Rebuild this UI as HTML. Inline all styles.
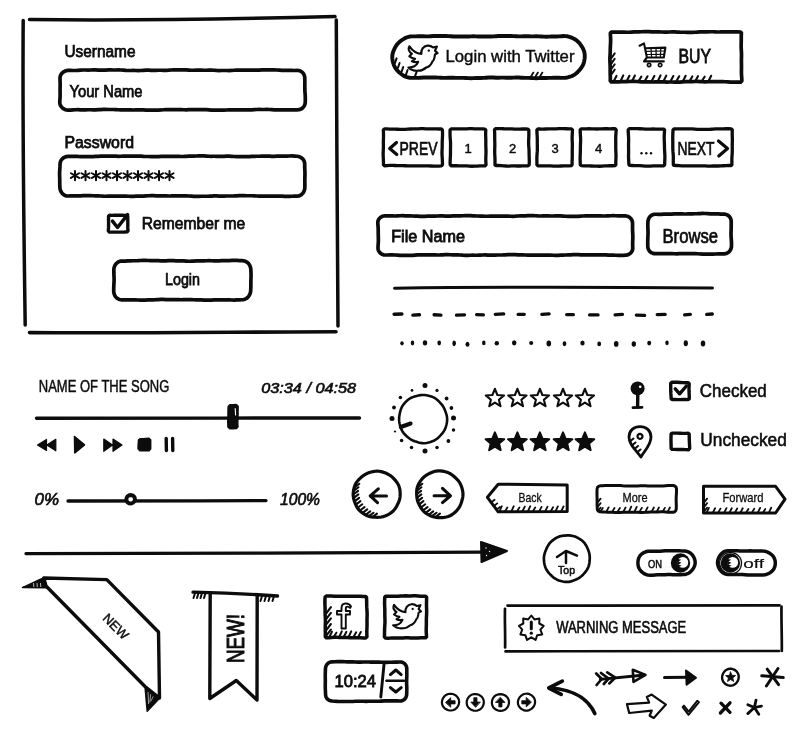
<!DOCTYPE html>
<html><head><meta charset="utf-8"><title>Hand drawn UI kit</title>
<style>
html,body{margin:0;padding:0;background:#fff;}
body{width:800px;height:745px;overflow:hidden;font-family:"Liberation Sans",sans-serif;}
svg{display:block;will-change:transform;}
svg text{font-family:"Liberation Sans",sans-serif;fill:#0c0c0c;}
</style></head><body>
<svg width="800" height="745" viewBox="0 0 800 745">
<rect x="0" y="0" width="800" height="745" fill="#fff"/>
<path d="M29.5,19.6 C120,20.5 240,19 335,16.6" fill="none" stroke="#0c0c0c" stroke-width="3.5" stroke-linecap="round" stroke-linejoin="round" />
<path d="M23.2,20.5 C22.5,120 23.8,230 25.2,325" fill="none" stroke="#0c0c0c" stroke-width="3.5" stroke-linecap="round" stroke-linejoin="round" />
<path d="M336.3,20 C336.4,120 337.6,230 338,326" fill="none" stroke="#0c0c0c" stroke-width="3.5" stroke-linecap="round" stroke-linejoin="round" />
<path d="M29.5,332.6 C120,333.4 240,332 336,331.8" fill="none" stroke="#0c0c0c" stroke-width="3.6" stroke-linecap="round" stroke-linejoin="round" />
<text x="64.50" y="56.80" font-size="16" font-weight="normal" text-anchor="start" textLength="71.0" lengthAdjust="spacingAndGlyphs" stroke="#0c0c0c" stroke-width="0.75"  style="">Username</text>
<path d="M68.01,70.46 L70.52,70.47 L73.03,70.50 L75.55,70.48 L78.07,70.32 L80.58,70.12 L83.10,70.00 L85.62,70.00 L88.13,70.03 L90.65,70.00 L93.16,69.95 L95.68,69.97 L98.20,70.08 L100.71,70.18 L103.23,70.16 L105.75,70.05 L108.26,69.96 L110.78,69.97 L113.30,70.02 L115.81,70.02 L118.33,69.97 L120.85,70.00 L123.36,70.15 L125.88,70.36 L128.40,70.48 L130.91,70.48 L133.43,70.46 L135.95,70.49 L138.46,70.53 L140.98,70.49 L143.49,70.35 L146.01,70.21 L148.53,70.20 L151.04,70.28 L153.56,70.34 L156.08,70.31 L158.59,70.26 L161.11,70.27 L163.63,70.33 L166.14,70.32 L168.66,70.18 L171.18,69.98 L173.69,69.88 L176.21,69.88 L178.73,69.90 L181.24,69.87 L183.76,69.84 L186.27,69.90 L188.79,70.07 L191.31,70.23 L193.82,70.27 L196.34,70.21 L198.86,70.18 L201.37,70.22 L203.89,70.27 L206.41,70.24 L208.92,70.16 L211.44,70.15 L213.96,70.27 L216.47,70.44 L218.99,70.53 L221.51,70.52 L224.02,70.49 L226.54,70.52 L229.05,70.54 L231.57,70.47 L234.09,70.28 L236.60,70.10 L239.12,70.04 L241.64,70.08 L244.15,70.10 L246.67,70.05 L249.19,70.01 L251.70,70.06 L254.22,70.16 L256.74,70.20 L259.25,70.11 L261.77,69.97 L264.29,69.91 L266.80,69.94 L269.32,69.97 L271.84,69.94 L274.35,69.92 L276.87,70.00 L279.38,70.19 L281.90,70.38 L284.42,70.44 L286.93,70.42 L289.45,70.41 L291.97,70.46 L294.48,70.49 L296.99,70.41 L298.54,70.48 L300.04,70.85 L301.44,71.56 L302.64,72.56 L303.59,73.80 L304.25,75.20 L304.65,76.68 L304.79,78.21 L304.83,80.82 L304.86,83.44 L304.82,86.07 L304.80,88.69 L304.91,91.31 L305.12,93.93 L305.28,96.56 L305.31,99.18 L305.28,101.81 L305.12,103.42 L304.68,104.98 L303.93,106.43 L302.90,107.70 L301.61,108.71 L300.15,109.40 L298.58,109.76 L297.00,109.83 L294.48,109.77 L291.97,109.83 L289.45,109.90 L286.93,109.88 L284.42,109.83 L281.90,109.82 L279.38,109.89 L276.87,109.90 L274.35,109.79 L271.84,109.61 L269.32,109.48 L266.80,109.47 L264.29,109.50 L261.77,109.48 L259.25,109.44 L256.74,109.48 L254.22,109.64 L251.70,109.82 L249.19,109.90 L246.67,109.86 L244.15,109.82 L241.64,109.85 L239.12,109.91 L236.60,109.89 L234.09,109.81 L231.57,109.77 L229.05,109.85 L226.54,110.01 L224.02,110.12 L221.51,110.11 L218.99,110.08 L216.47,110.09 L213.96,110.13 L211.44,110.08 L208.92,109.90 L206.41,109.71 L203.89,109.62 L201.37,109.64 L198.86,109.66 L196.34,109.62 L193.82,109.57 L191.31,109.61 L188.79,109.72 L186.27,109.79 L183.76,109.74 L181.24,109.61 L178.73,109.53 L176.21,109.55 L173.69,109.59 L171.18,109.58 L168.66,109.54 L166.14,109.59 L163.63,109.77 L161.11,109.97 L158.59,110.06 L156.08,110.05 L153.56,110.03 L151.04,110.07 L148.53,110.11 L146.01,110.05 L143.49,109.91 L140.98,109.81 L138.46,109.83 L135.95,109.93 L133.43,109.98 L130.91,109.94 L128.40,109.90 L125.88,109.92 L123.36,109.97 L120.85,109.92 L118.33,109.75 L115.81,109.57 L113.30,109.48 L110.78,109.49 L108.26,109.51 L105.75,109.47 L103.23,109.45 L100.71,109.53 L98.20,109.70 L95.68,109.83 L93.16,109.83 L90.65,109.77 L88.13,109.74 L85.62,109.79 L83.10,109.83 L80.58,109.79 L78.07,109.72 L75.55,109.75 L73.03,109.90 L70.52,110.07 L67.99,110.14 L66.37,109.97 L64.82,109.48 L63.39,108.70 L62.12,107.68 L61.07,106.43 L60.28,105.00 L59.83,103.42 L59.75,101.81 L59.95,99.18 L60.10,96.56 L60.12,93.93 L60.07,91.31 L60.08,88.69 L60.14,86.07 L60.14,83.44 L60.06,80.82 L59.98,78.20 L60.15,76.64 L60.67,75.16 L61.48,73.84 L62.52,72.72 L63.72,71.80 L65.06,71.10 L66.50,70.64 Z" fill="none" stroke="#0c0c0c" stroke-width="3.7" stroke-linejoin="round" />
<text x="69.50" y="96.50" font-size="16" font-weight="normal" text-anchor="start" textLength="73.0" lengthAdjust="spacingAndGlyphs" stroke="#0c0c0c" stroke-width="0.75"  style="">Your Name</text>
<text x="64.50" y="147.50" font-size="16" font-weight="normal" text-anchor="start" textLength="69.5" lengthAdjust="spacingAndGlyphs" stroke="#0c0c0c" stroke-width="0.75"  style="">Password</text>
<path d="M68.00,156.43 L70.52,156.31 L73.03,156.26 L75.55,156.33 L78.07,156.47 L80.58,156.54 L83.10,156.54 L85.62,156.54 L88.13,156.61 L90.65,156.68 L93.16,156.64 L95.68,156.47 L98.20,156.28 L100.71,156.19 L103.23,156.19 L105.75,156.16 L108.26,156.07 L110.78,156.01 L113.30,156.07 L115.81,156.20 L118.33,156.28 L120.85,156.24 L123.36,156.14 L125.88,156.10 L128.40,156.13 L130.91,156.14 L133.43,156.07 L135.95,156.00 L138.46,156.04 L140.98,156.21 L143.49,156.39 L146.01,156.48 L148.53,156.49 L151.04,156.53 L153.56,156.62 L156.08,156.67 L158.59,156.60 L161.11,156.45 L163.63,156.34 L166.14,156.35 L168.66,156.42 L171.18,156.43 L173.69,156.37 L176.21,156.35 L178.73,156.42 L181.24,156.50 L183.76,156.47 L186.27,156.31 L188.79,156.14 L191.31,156.07 L193.82,156.06 L196.34,156.02 L198.86,155.93 L201.37,155.88 L203.89,155.97 L206.41,156.14 L208.92,156.27 L211.44,156.29 L213.96,156.26 L216.47,156.28 L218.99,156.35 L221.51,156.38 L224.02,156.30 L226.54,156.21 L229.05,156.22 L231.57,156.36 L234.09,156.50 L236.60,156.55 L239.12,156.55 L241.64,156.58 L244.15,156.67 L246.67,156.71 L249.19,156.61 L251.70,156.42 L254.22,156.28 L256.74,156.24 L259.25,156.25 L261.77,156.20 L264.29,156.12 L266.80,156.10 L269.32,156.18 L271.84,156.29 L274.35,156.31 L276.87,156.20 L279.38,156.09 L281.90,156.07 L284.42,156.09 L286.93,156.06 L289.45,155.98 L291.97,155.94 L294.48,156.04 L297.00,156.24 L298.55,156.50 L300.02,157.01 L301.37,157.76 L302.56,158.74 L303.53,159.94 L304.22,161.31 L304.61,162.79 L304.71,164.31 L304.69,166.93 L304.80,169.57 L304.94,172.20 L304.96,174.83 L304.88,177.47 L304.82,180.10 L304.84,182.73 L304.87,185.37 L304.82,187.99 L304.62,189.52 L304.14,190.96 L303.44,192.30 L302.52,193.52 L301.40,194.59 L300.08,195.43 L298.59,195.98 L297.01,196.19 L294.48,196.21 L291.97,196.24 L289.45,196.32 L286.93,196.39 L284.42,196.34 L281.90,196.19 L279.38,196.06 L276.87,196.03 L274.35,196.09 L271.84,196.10 L269.32,196.05 L266.80,196.01 L264.29,196.06 L261.77,196.15 L259.25,196.15 L256.74,196.02 L254.22,195.85 L251.70,195.76 L249.19,195.75 L246.67,195.73 L244.15,195.64 L241.64,195.58 L239.12,195.64 L236.60,195.81 L234.09,195.97 L231.57,196.01 L229.05,195.99 L226.54,196.01 L224.02,196.08 L221.51,196.12 L218.99,196.07 L216.47,195.96 L213.96,195.94 L211.44,196.04 L208.92,196.18 L206.41,196.25 L203.89,196.25 L201.37,196.26 L198.86,196.34 L196.34,196.40 L193.82,196.33 L191.31,196.15 L188.79,195.98 L186.27,195.91 L183.76,195.92 L181.24,195.88 L178.73,195.79 L176.21,195.75 L173.69,195.82 L171.18,195.95 L168.66,196.00 L166.14,195.92 L163.63,195.81 L161.11,195.78 L158.59,195.81 L156.08,195.80 L153.56,195.72 L151.04,195.67 L148.53,195.74 L146.01,195.92 L143.49,196.09 L140.98,196.16 L138.46,196.17 L135.95,196.22 L133.43,196.31 L130.91,196.35 L128.40,196.26 L125.88,196.11 L123.36,196.03 L120.85,196.08 L118.33,196.15 L115.81,196.15 L113.30,196.10 L110.78,196.10 L108.26,196.18 L105.75,196.24 L103.23,196.17 L100.71,196.00 L98.20,195.84 L95.68,195.78 L93.16,195.77 L90.65,195.72 L88.13,195.62 L85.62,195.60 L83.10,195.70 L80.58,195.87 L78.07,195.97 L75.55,195.96 L73.03,195.93 L70.52,195.95 L68.00,196.02 L66.43,195.88 L64.93,195.40 L63.58,194.61 L62.42,193.58 L61.46,192.37 L60.71,191.02 L60.19,189.55 L59.93,188.00 L59.79,185.37 L59.75,182.73 L59.74,180.10 L59.68,177.47 L59.59,174.83 L59.61,172.20 L59.77,169.57 L59.95,166.93 L60.03,164.30 L60.19,162.75 L60.63,161.25 L61.37,159.87 L62.39,158.69 L63.62,157.75 L65.00,157.06 L66.47,156.62 Z" fill="none" stroke="#0c0c0c" stroke-width="3.7" stroke-linejoin="round" />
<line x1="75.00" y1="170.90" x2="75.00" y2="180.30" stroke="#0c0c0c" stroke-width="2.0" stroke-linecap="round" />
<line x1="79.07" y1="173.25" x2="70.93" y2="177.95" stroke="#0c0c0c" stroke-width="2.0" stroke-linecap="round" />
<line x1="79.07" y1="177.95" x2="70.93" y2="173.25" stroke="#0c0c0c" stroke-width="2.0" stroke-linecap="round" />
<line x1="85.50" y1="170.90" x2="85.50" y2="180.30" stroke="#0c0c0c" stroke-width="2.0" stroke-linecap="round" />
<line x1="89.57" y1="173.25" x2="81.43" y2="177.95" stroke="#0c0c0c" stroke-width="2.0" stroke-linecap="round" />
<line x1="89.57" y1="177.95" x2="81.43" y2="173.25" stroke="#0c0c0c" stroke-width="2.0" stroke-linecap="round" />
<line x1="96.00" y1="170.90" x2="96.00" y2="180.30" stroke="#0c0c0c" stroke-width="2.0" stroke-linecap="round" />
<line x1="100.07" y1="173.25" x2="91.93" y2="177.95" stroke="#0c0c0c" stroke-width="2.0" stroke-linecap="round" />
<line x1="100.07" y1="177.95" x2="91.93" y2="173.25" stroke="#0c0c0c" stroke-width="2.0" stroke-linecap="round" />
<line x1="106.50" y1="170.90" x2="106.50" y2="180.30" stroke="#0c0c0c" stroke-width="2.0" stroke-linecap="round" />
<line x1="110.57" y1="173.25" x2="102.43" y2="177.95" stroke="#0c0c0c" stroke-width="2.0" stroke-linecap="round" />
<line x1="110.57" y1="177.95" x2="102.43" y2="173.25" stroke="#0c0c0c" stroke-width="2.0" stroke-linecap="round" />
<line x1="117.00" y1="170.90" x2="117.00" y2="180.30" stroke="#0c0c0c" stroke-width="2.0" stroke-linecap="round" />
<line x1="121.07" y1="173.25" x2="112.93" y2="177.95" stroke="#0c0c0c" stroke-width="2.0" stroke-linecap="round" />
<line x1="121.07" y1="177.95" x2="112.93" y2="173.25" stroke="#0c0c0c" stroke-width="2.0" stroke-linecap="round" />
<line x1="127.50" y1="170.90" x2="127.50" y2="180.30" stroke="#0c0c0c" stroke-width="2.0" stroke-linecap="round" />
<line x1="131.57" y1="173.25" x2="123.43" y2="177.95" stroke="#0c0c0c" stroke-width="2.0" stroke-linecap="round" />
<line x1="131.57" y1="177.95" x2="123.43" y2="173.25" stroke="#0c0c0c" stroke-width="2.0" stroke-linecap="round" />
<line x1="138.00" y1="170.90" x2="138.00" y2="180.30" stroke="#0c0c0c" stroke-width="2.0" stroke-linecap="round" />
<line x1="142.07" y1="173.25" x2="133.93" y2="177.95" stroke="#0c0c0c" stroke-width="2.0" stroke-linecap="round" />
<line x1="142.07" y1="177.95" x2="133.93" y2="173.25" stroke="#0c0c0c" stroke-width="2.0" stroke-linecap="round" />
<line x1="148.50" y1="170.90" x2="148.50" y2="180.30" stroke="#0c0c0c" stroke-width="2.0" stroke-linecap="round" />
<line x1="152.57" y1="173.25" x2="144.43" y2="177.95" stroke="#0c0c0c" stroke-width="2.0" stroke-linecap="round" />
<line x1="152.57" y1="177.95" x2="144.43" y2="173.25" stroke="#0c0c0c" stroke-width="2.0" stroke-linecap="round" />
<line x1="159.00" y1="170.90" x2="159.00" y2="180.30" stroke="#0c0c0c" stroke-width="2.0" stroke-linecap="round" />
<line x1="163.07" y1="173.25" x2="154.93" y2="177.95" stroke="#0c0c0c" stroke-width="2.0" stroke-linecap="round" />
<line x1="163.07" y1="177.95" x2="154.93" y2="173.25" stroke="#0c0c0c" stroke-width="2.0" stroke-linecap="round" />
<line x1="169.50" y1="170.90" x2="169.50" y2="180.30" stroke="#0c0c0c" stroke-width="2.0" stroke-linecap="round" />
<line x1="173.57" y1="173.25" x2="165.43" y2="177.95" stroke="#0c0c0c" stroke-width="2.0" stroke-linecap="round" />
<line x1="173.57" y1="177.95" x2="165.43" y2="173.25" stroke="#0c0c0c" stroke-width="2.0" stroke-linecap="round" />
<path d="M109.53,215.29 L112.00,215.33 L114.50,215.30 L117.00,215.22 L119.50,215.20 L122.00,215.29 L124.50,215.42 L126.92,215.48 L127.71,216.27 L127.77,219.12 L127.81,222.04 L127.79,224.96 L127.82,227.88 L127.99,230.80 L127.03,231.90 L124.50,232.07 L122.00,232.13 L119.50,232.11 L117.00,232.09 L114.50,232.11 L112.00,232.13 L109.42,232.07 L108.30,230.85 L108.49,227.88 L108.59,224.96 L108.57,222.04 L108.52,219.12 L108.55,216.21 Z" fill="none" stroke="#0c0c0c" stroke-width="3.4" stroke-linejoin="round" />
<path d="M112.5,221.2 L117.5,227.5 L127.6,214.6" fill="none" stroke="#0c0c0c" stroke-width="3.5" stroke-linecap="round" stroke-linejoin="round" />
<text x="141.80" y="228.80" font-size="16" font-weight="normal" text-anchor="start" textLength="103.5" lengthAdjust="spacingAndGlyphs" stroke="#0c0c0c" stroke-width="0.75"  style="">Remember me</text>
<path d="M122.71,261.00 L125.24,261.05 L127.78,260.96 L130.31,260.83 L132.85,260.75 L135.39,260.73 L137.93,260.66 L140.47,260.52 L143.01,260.39 L145.54,260.38 L148.08,260.51 L150.62,260.63 L153.16,260.66 L155.70,260.65 L158.24,260.70 L160.77,260.80 L163.31,260.85 L165.85,260.78 L168.39,260.66 L170.93,260.62 L173.47,260.71 L176.00,260.83 L178.54,260.88 L181.08,260.90 L183.62,260.97 L186.16,261.12 L188.70,261.24 L191.23,261.22 L193.77,261.09 L196.31,260.97 L198.85,260.93 L201.39,260.92 L203.93,260.85 L206.46,260.74 L209.00,260.69 L211.54,260.76 L214.08,260.88 L216.62,260.91 L219.16,260.82 L221.69,260.72 L224.23,260.69 L226.77,260.68 L229.31,260.61 L231.85,260.46 L234.39,260.35 L236.92,260.39 L239.46,260.53 L242.00,260.65 L243.58,260.82 L245.12,261.24 L246.55,261.92 L247.82,262.86 L248.88,264.03 L249.71,265.35 L250.31,266.78 L250.69,268.27 L250.86,269.80 L250.98,272.43 L251.05,275.05 L250.99,277.68 L250.90,280.30 L250.87,282.93 L250.88,285.55 L250.82,288.18 L250.68,290.79 L250.47,292.29 L250.05,293.73 L249.44,295.09 L248.64,296.37 L247.63,297.51 L246.42,298.46 L245.04,299.16 L243.55,299.58 L242.00,299.73 L239.46,299.79 L236.92,299.93 L234.39,300.04 L231.85,300.02 L229.31,299.90 L226.77,299.82 L224.23,299.84 L221.69,299.92 L219.16,299.95 L216.62,299.92 L214.08,299.94 L211.54,300.05 L209.00,300.18 L206.46,300.19 L203.93,300.08 L201.39,299.93 L198.85,299.86 L196.31,299.83 L193.77,299.75 L191.23,299.60 L188.70,299.50 L186.16,299.53 L183.62,299.65 L181.08,299.73 L178.54,299.71 L176.00,299.65 L173.47,299.65 L170.93,299.70 L168.39,299.68 L165.85,299.57 L163.31,299.45 L160.77,299.46 L158.24,299.58 L155.70,299.72 L153.16,299.78 L150.62,299.81 L148.08,299.91 L145.54,300.07 L143.01,300.16 L140.47,300.11 L137.93,299.98 L135.39,299.91 L132.85,299.93 L130.31,299.96 L127.78,299.93 L125.24,299.87 L122.70,299.88 L121.11,299.81 L119.54,299.47 L118.05,298.85 L116.72,297.93 L115.60,296.76 L114.74,295.40 L114.15,293.91 L113.80,292.37 L113.71,290.80 L113.74,288.18 L113.82,285.55 L113.98,282.93 L114.10,280.30 L114.07,277.68 L113.93,275.05 L113.84,272.43 L113.84,269.80 L113.99,268.26 L114.38,266.77 L115.01,265.36 L115.86,264.06 L116.93,262.92 L118.21,262.02 L119.64,261.39 L121.16,261.06 Z" fill="none" stroke="#0c0c0c" stroke-width="3.7" stroke-linejoin="round" />
<text x="165.00" y="284.80" font-size="16.5" font-weight="normal" text-anchor="start" textLength="35.0" lengthAdjust="spacingAndGlyphs" stroke="#0c0c0c" stroke-width="0.75"  style="">Login</text>
<path d="M413.20,36.33 L415.71,36.35 L418.22,36.29 L420.74,36.25 L423.25,36.28 L425.76,36.35 L428.27,36.34 L430.78,36.20 L433.29,36.04 L435.81,35.96 L438.32,35.98 L440.83,36.01 L443.34,36.00 L445.85,35.99 L448.36,36.08 L450.88,36.27 L453.39,36.45 L455.90,36.52 L458.41,36.48 L460.92,36.45 L463.43,36.48 L465.94,36.52 L468.46,36.48 L470.97,36.37 L473.48,36.31 L475.99,36.37 L478.50,36.50 L481.01,36.57 L483.53,36.53 L486.04,36.45 L488.55,36.44 L491.06,36.44 L493.57,36.38 L496.08,36.20 L498.60,36.01 L501.11,35.92 L503.62,35.96 L506.13,36.03 L508.64,36.04 L511.15,36.03 L513.67,36.10 L516.18,36.24 L518.69,36.37 L521.20,36.38 L523.71,36.29 L526.23,36.23 L528.74,36.26 L531.25,36.33 L533.76,36.35 L536.27,36.32 L538.78,36.34 L541.29,36.47 L543.81,36.63 L546.32,36.72 L548.83,36.66 L551.34,36.56 L553.85,36.50 L556.37,36.48 L558.88,36.40 L561.39,36.24 L563.90,36.07 L565.47,36.08 L567.03,36.26 L568.56,36.60 L570.05,37.06 L571.51,37.62 L572.93,38.25 L574.32,38.96 L575.65,39.77 L576.91,40.68 L578.08,41.71 L579.15,42.85 L580.13,44.05 L581.04,45.32 L581.88,46.62 L582.67,47.96 L583.36,49.36 L583.94,50.82 L584.38,52.33 L584.64,53.87 L584.75,55.44 L584.73,57.00 L584.73,57.10 L584.61,58.65 L584.40,60.19 L584.09,61.71 L583.67,63.20 L583.12,64.64 L582.42,66.02 L581.61,67.33 L580.71,68.56 L579.76,69.75 L578.76,70.89 L577.72,71.99 L576.62,73.04 L575.43,74.01 L574.16,74.87 L572.81,75.61 L571.40,76.22 L569.96,76.73 L568.48,77.16 L566.98,77.51 L565.45,77.76 L563.90,77.88 L561.39,77.89 L558.88,77.80 L556.37,77.71 L553.85,77.72 L551.34,77.83 L548.83,77.91 L546.32,77.93 L543.81,77.94 L541.29,78.02 L538.78,78.16 L536.27,78.24 L533.76,78.16 L531.25,78.01 L528.74,77.88 L526.23,77.83 L523.71,77.79 L521.20,77.68 L518.69,77.55 L516.18,77.50 L513.67,77.58 L511.15,77.70 L508.64,77.75 L506.13,77.69 L503.62,77.64 L501.11,77.66 L498.60,77.70 L496.08,77.68 L493.57,77.57 L491.06,77.50 L488.55,77.56 L486.04,77.73 L483.53,77.87 L481.01,77.94 L478.50,77.97 L475.99,78.05 L473.48,78.17 L470.97,78.22 L468.46,78.14 L465.94,77.97 L463.43,77.86 L460.92,77.85 L458.41,77.87 L455.90,77.83 L453.39,77.75 L450.88,77.72 L448.36,77.80 L445.85,77.89 L443.34,77.87 L440.83,77.74 L438.32,77.61 L435.80,77.56 L433.29,77.56 L430.78,77.53 L428.27,77.44 L425.76,77.40 L423.25,77.49 L420.74,77.69 L418.22,77.85 L415.71,77.91 L413.20,77.91 L411.64,77.87 L410.09,77.74 L408.54,77.50 L407.02,77.14 L405.54,76.62 L404.12,75.96 L402.77,75.16 L401.50,74.27 L400.28,73.30 L399.11,72.29 L397.98,71.22 L396.92,70.08 L395.95,68.86 L395.09,67.55 L394.37,66.17 L393.77,64.73 L393.28,63.25 L392.87,61.74 L392.55,60.21 L392.34,58.66 L392.26,57.11 L392.26,56.99 L392.34,55.44 L392.60,53.89 L393.00,52.39 L393.52,50.93 L394.12,49.51 L394.79,48.13 L395.52,46.79 L396.32,45.49 L397.23,44.26 L398.24,43.12 L399.34,42.07 L400.52,41.10 L401.75,40.20 L403.01,39.35 L404.32,38.56 L405.68,37.85 L407.11,37.25 L408.59,36.79 L410.11,36.49 L411.65,36.35 Z" fill="none" stroke="#0c0c0c" stroke-width="3.9" stroke-linejoin="round" />
<path d="M409.4,46.3 C412,50 417,53.5 421.3,53.8 C421,50 423,46 427.5,45.6 C430,45.4 432,46.5 433.1,47.5 L436.9,46.6 L435,50.6 L437.5,53.1 L435,54.4 C434.5,58 433.5,61 432.5,61.3 C431,65 428,67 426.3,67.5 C423,70 420,70.8 418.8,70.6 C416,71 414,70.6 412.5,70 C411,69.5 409.5,68.5 408.4,67.5 C411,67.6 413,67 414.4,66.3 C416,65.5 417.5,63.5 418.1,61.9 C416,62.5 413.5,62 411.9,61.3 L415,58.8 C413,58.5 411,57.5 409.4,56.3 L411.9,53.8 C410.5,52.8 409.3,51.5 408.8,50 C408.5,48.5 408.8,47.3 409.4,46.3 Z" fill="none" stroke="#0c0c0c" stroke-width="2.2" stroke-linecap="round" stroke-linejoin="round" />
<circle cx="428.80" cy="50.60" r="1.20" fill="#0c0c0c"/>
<text x="445.50" y="61.60" font-size="16.5" font-weight="normal" text-anchor="start" textLength="129.0" lengthAdjust="spacingAndGlyphs" stroke="#0c0c0c" stroke-width="0.4"  style="">Login with Twitter</text>
<line x1="395.00" y1="63.00" x2="396.60" y2="58.40" stroke="#0c0c0c" stroke-width="2.0" stroke-linecap="round" />
<line x1="398.00" y1="67.60" x2="399.60" y2="63.00" stroke="#0c0c0c" stroke-width="2.0" stroke-linecap="round" />
<line x1="401.60" y1="71.60" x2="403.20" y2="67.00" stroke="#0c0c0c" stroke-width="2.0" stroke-linecap="round" />
<line x1="406.00" y1="74.60" x2="407.60" y2="70.00" stroke="#0c0c0c" stroke-width="2.0" stroke-linecap="round" />
<line x1="415.00" y1="76.40" x2="416.60" y2="71.80" stroke="#0c0c0c" stroke-width="2.0" stroke-linecap="round" />
<line x1="531.00" y1="76.40" x2="533.40" y2="72.60" stroke="#0c0c0c" stroke-width="1.8" stroke-linecap="round" />
<line x1="535.50" y1="76.40" x2="537.90" y2="72.60" stroke="#0c0c0c" stroke-width="1.8" stroke-linecap="round" />
<line x1="540.00" y1="76.40" x2="542.40" y2="72.60" stroke="#0c0c0c" stroke-width="1.8" stroke-linecap="round" />
<path d="M611.33,32.09 L613.83,32.15 L616.37,32.14 L618.90,32.08 L621.43,32.07 L623.97,32.15 L626.50,32.26 L629.03,32.25 L631.57,32.12 L634.10,31.96 L636.63,31.88 L639.17,31.85 L641.70,31.77 L644.23,31.64 L646.77,31.56 L649.30,31.64 L651.83,31.80 L654.37,31.92 L656.90,31.94 L659.43,31.93 L661.97,31.98 L664.50,32.07 L667.03,32.08 L669.57,31.99 L672.10,31.91 L674.63,31.94 L677.17,32.08 L679.70,32.20 L682.23,32.23 L684.77,32.23 L687.30,32.30 L689.83,32.39 L692.37,32.39 L694.90,32.25 L697.43,32.05 L699.97,31.93 L702.50,31.91 L705.03,31.89 L707.57,31.82 L710.10,31.74 L712.63,31.77 L715.17,31.90 L717.70,31.99 L720.23,31.95 L722.77,31.84 L725.30,31.78 L727.83,31.80 L730.37,31.83 L732.90,31.78 L735.43,31.73 L737.97,31.79 L740.51,31.98 L741.41,33.03 L741.26,35.52 L741.24,38.03 L741.24,40.55 L741.20,43.06 L741.15,45.58 L741.19,48.09 L741.33,50.61 L741.48,53.13 L741.52,55.64 L741.45,58.16 L741.40,60.67 L741.43,63.19 L741.49,65.71 L741.48,68.22 L741.42,70.74 L741.43,73.25 L741.57,75.77 L741.76,78.28 L741.84,80.90 L740.60,82.14 L737.97,82.11 L735.43,82.10 L732.90,82.12 L730.37,82.08 L727.83,81.92 L725.30,81.73 L722.77,81.63 L720.23,81.67 L717.70,81.72 L715.17,81.71 L712.63,81.65 L710.10,81.66 L707.57,81.74 L705.03,81.78 L702.50,81.70 L699.97,81.55 L697.43,81.46 L694.90,81.50 L692.37,81.58 L689.83,81.61 L687.30,81.62 L684.77,81.71 L682.23,81.90 L679.70,82.09 L677.17,82.14 L674.63,82.07 L672.10,82.01 L669.57,82.01 L667.03,82.03 L664.50,81.96 L661.97,81.84 L659.43,81.78 L656.90,81.86 L654.37,81.97 L651.83,82.00 L649.30,81.92 L646.77,81.83 L644.23,81.81 L641.70,81.79 L639.17,81.69 L636.63,81.50 L634.10,81.37 L631.57,81.39 L629.03,81.50 L626.50,81.59 L623.97,81.61 L621.43,81.65 L618.90,81.78 L616.37,81.92 L613.83,81.96 L611.28,81.88 L610.28,80.81 L610.33,78.28 L610.27,75.77 L610.19,73.25 L610.18,70.74 L610.20,68.22 L610.15,65.71 L610.02,63.19 L609.90,60.67 L609.92,58.16 L610.05,55.64 L610.19,53.13 L610.25,50.61 L610.29,48.09 L610.41,45.58 L610.56,43.06 L610.64,40.55 L610.57,38.03 L610.45,35.52 L610.38,33.02 Z" fill="none" stroke="#0c0c0c" stroke-width="3.7" stroke-linejoin="round" />
<line x1="614.09" y1="80.50" x2="616.49" y2="75.93" stroke="#0c0c0c" stroke-width="2.1" stroke-linecap="round" />
<line x1="620.87" y1="80.50" x2="623.27" y2="75.37" stroke="#0c0c0c" stroke-width="2.1" stroke-linecap="round" />
<line x1="627.03" y1="80.50" x2="629.43" y2="75.76" stroke="#0c0c0c" stroke-width="2.1" stroke-linecap="round" />
<line x1="632.47" y1="80.50" x2="634.87" y2="75.49" stroke="#0c0c0c" stroke-width="2.1" stroke-linecap="round" />
<line x1="638.97" y1="80.50" x2="641.37" y2="76.61" stroke="#0c0c0c" stroke-width="2.1" stroke-linecap="round" />
<line x1="645.12" y1="80.50" x2="647.52" y2="76.23" stroke="#0c0c0c" stroke-width="2.1" stroke-linecap="round" />
<line x1="651.97" y1="80.50" x2="654.37" y2="75.90" stroke="#0c0c0c" stroke-width="2.1" stroke-linecap="round" />
<line x1="658.16" y1="80.50" x2="660.56" y2="75.40" stroke="#0c0c0c" stroke-width="2.1" stroke-linecap="round" />
<line x1="663.87" y1="80.50" x2="666.27" y2="75.63" stroke="#0c0c0c" stroke-width="2.1" stroke-linecap="round" />
<line x1="670.92" y1="80.50" x2="673.32" y2="75.98" stroke="#0c0c0c" stroke-width="2.1" stroke-linecap="round" />
<line x1="676.78" y1="80.50" x2="679.18" y2="76.24" stroke="#0c0c0c" stroke-width="2.1" stroke-linecap="round" />
<line x1="683.24" y1="80.50" x2="685.64" y2="75.78" stroke="#0c0c0c" stroke-width="2.1" stroke-linecap="round" />
<line x1="689.95" y1="80.50" x2="692.35" y2="76.42" stroke="#0c0c0c" stroke-width="2.1" stroke-linecap="round" />
<line x1="695.59" y1="80.50" x2="697.99" y2="76.22" stroke="#0c0c0c" stroke-width="2.1" stroke-linecap="round" />
<line x1="702.23" y1="80.50" x2="704.63" y2="76.70" stroke="#0c0c0c" stroke-width="2.1" stroke-linecap="round" />
<line x1="708.78" y1="80.50" x2="711.18" y2="75.76" stroke="#0c0c0c" stroke-width="2.1" stroke-linecap="round" />
<line x1="611.50" y1="58.00" x2="614.70" y2="53.40" stroke="#0c0c0c" stroke-width="2.0" stroke-linecap="round" />
<line x1="611.50" y1="63.40" x2="614.70" y2="58.80" stroke="#0c0c0c" stroke-width="2.0" stroke-linecap="round" />
<line x1="611.50" y1="68.80" x2="614.70" y2="64.20" stroke="#0c0c0c" stroke-width="2.0" stroke-linecap="round" />
<line x1="611.50" y1="74.20" x2="614.70" y2="69.60" stroke="#0c0c0c" stroke-width="2.0" stroke-linecap="round" />
<path d="M639.6,45.7 L644,43.4 L646.9,57.5 L663.8,57.5 L665.4,47.6 L645.2,48.2 M646.9,57.5 L644,61.4 L663.8,61.4" fill="none" stroke="#0c0c0c" stroke-width="2.1" stroke-linecap="round" stroke-linejoin="round" />
<path d="M651,48.2 L651.6,57.5 M656,48 L656.2,57.5 M660.8,47.8 L660.4,57.5 M645.8,51.3 L664.8,51 M646.4,54.5 L664.3,54.3" fill="none" stroke="#0c0c0c" stroke-width="1.2" stroke-linecap="round" stroke-linejoin="round" />
<path d="M650.78,65.00 L650.55,65.84 L649.93,66.45 L649.10,66.67 L648.26,66.46 L647.63,65.85 L647.41,65.00 L647.64,64.16 L648.24,63.51 L649.10,63.24 L649.98,63.47 L650.59,64.14 Z" fill="none" stroke="#0c0c0c" stroke-width="1.7" stroke-linejoin="round"/>
<path d="M661.82,65.00 L661.59,65.86 L660.96,66.49 L660.10,66.71 L659.25,66.47 L658.64,65.84 L658.46,65.00 L658.68,64.18 L659.26,63.55 L660.10,63.27 L660.97,63.49 L661.59,64.14 Z" fill="none" stroke="#0c0c0c" stroke-width="1.7" stroke-linejoin="round"/>
<text x="678.50" y="63.10" font-size="20" font-weight="normal" text-anchor="start" textLength="32.5" lengthAdjust="spacingAndGlyphs" stroke="#0c0c0c" stroke-width="0.8"  style="">BUY</text>
<path d="M384.46,128.86 L387.09,128.95 L389.67,129.10 L392.26,129.17 L394.85,129.18 L397.43,129.23 L400.02,129.35 L402.60,129.42 L405.19,129.34 L407.78,129.16 L410.36,129.01 L412.95,128.96 L415.54,128.91 L418.12,128.78 L420.71,128.66 L423.30,128.66 L425.88,128.79 L428.47,128.90 L431.05,128.91 L433.64,128.87 L436.23,128.90 L438.81,128.99 L441.40,129.02 L442.42,129.99 L442.52,132.68 L442.53,135.35 L442.41,138.03 L442.27,140.71 L442.22,143.38 L442.21,146.06 L442.13,148.74 L442.00,151.42 L442.00,154.09 L442.15,156.77 L442.34,159.45 L442.43,162.12 L442.46,164.82 L441.43,165.90 L438.81,166.04 L436.23,166.15 L433.64,166.12 L431.05,165.99 L428.47,165.89 L425.88,165.90 L423.30,165.93 L420.71,165.88 L418.12,165.80 L415.54,165.79 L412.95,165.89 L410.36,165.95 L407.78,165.88 L405.19,165.73 L402.60,165.63 L400.02,165.62 L397.43,165.59 L394.85,165.48 L392.26,165.38 L389.67,165.43 L387.09,165.61 L384.51,165.77 L383.49,164.80 L383.45,162.12 L383.36,159.45 L383.22,156.77 L383.14,154.09 L383.22,151.42 L383.36,148.74 L383.42,146.06 L383.38,143.38 L383.38,140.71 L383.47,138.03 L383.52,135.35 L383.46,132.68 L383.36,129.96 Z" fill="none" stroke="#0c0c0c" stroke-width="3.3" stroke-linejoin="round" />
<path d="M451.16,128.87 L453.80,128.82 L456.40,128.79 L459.00,128.87 L461.60,128.97 L464.20,128.97 L466.80,128.84 L469.40,128.71 L472.00,128.70 L474.60,128.78 L477.20,128.84 L479.80,128.85 L482.40,128.91 L484.98,129.08 L485.81,130.05 L485.65,132.68 L485.65,135.35 L485.76,138.03 L485.82,140.71 L485.81,143.38 L485.83,146.06 L485.93,148.74 L486.01,151.42 L485.96,154.09 L485.84,156.77 L485.78,159.45 L485.88,162.12 L486.02,164.80 L485.02,165.87 L482.40,165.91 L479.80,165.96 L477.20,166.09 L474.60,166.22 L472.00,166.23 L469.40,166.09 L466.80,165.92 L464.20,165.85 L461.60,165.85 L459.00,165.82 L456.40,165.73 L453.80,165.68 L451.21,165.75 L450.19,164.80 L450.12,162.12 L450.21,159.45 L450.37,156.77 L450.47,154.09 L450.47,151.42 L450.48,148.74 L450.54,146.06 L450.55,143.38 L450.43,140.71 L450.20,138.03 L450.05,135.35 L450.03,132.68 L450.07,129.96 Z" fill="none" stroke="#0c0c0c" stroke-width="3.3" stroke-linejoin="round" />
<path d="M495.61,128.68 L498.39,128.56 L501.08,128.63 L503.77,128.76 L506.47,128.83 L509.16,128.86 L511.85,128.96 L514.54,129.12 L517.23,129.19 L519.92,129.10 L522.62,128.99 L525.31,128.99 L527.97,129.09 L528.86,130.04 L528.84,132.68 L528.84,135.35 L528.76,138.03 L528.63,140.71 L528.61,143.38 L528.76,146.06 L528.97,148.74 L529.07,151.42 L529.10,154.09 L529.17,156.77 L529.27,159.45 L529.30,162.12 L529.17,164.85 L528.03,165.90 L525.31,165.82 L522.62,165.89 L519.92,165.99 L517.23,166.00 L514.54,165.96 L511.85,165.97 L509.16,166.03 L506.47,165.98 L503.77,165.78 L501.08,165.57 L498.39,165.48 L495.78,165.52 L494.96,164.73 L494.99,162.12 L495.00,159.45 L494.90,156.77 L494.73,154.09 L494.65,151.42 L494.72,148.74 L494.82,146.06 L494.82,143.38 L494.74,140.71 L494.70,138.03 L494.71,135.35 L494.65,132.68 L494.48,129.94 Z" fill="none" stroke="#0c0c0c" stroke-width="3.3" stroke-linejoin="round" />
<path d="M537.98,128.92 L540.57,129.01 L543.14,129.04 L545.71,128.98 L548.28,128.93 L550.85,128.94 L553.42,128.95 L555.98,128.87 L558.55,128.70 L561.12,128.58 L563.69,128.61 L566.26,128.75 L568.83,128.85 L571.43,128.90 L572.47,129.98 L572.36,132.68 L572.20,135.35 L572.12,138.03 L572.20,140.71 L572.33,143.38 L572.35,146.06 L572.28,148.74 L572.23,151.42 L572.25,154.09 L572.26,156.77 L572.17,159.45 L572.07,162.12 L572.11,164.72 L571.34,165.59 L568.83,165.79 L566.26,165.92 L563.69,165.97 L561.12,166.00 L558.55,166.09 L555.98,166.16 L553.42,166.11 L550.85,165.96 L548.28,165.83 L545.71,165.83 L543.14,165.91 L540.57,165.95 L537.97,165.90 L536.93,164.82 L536.91,162.12 L536.86,159.45 L536.89,156.77 L537.06,154.09 L537.27,151.42 L537.36,148.74 L537.33,146.06 L537.29,143.38 L537.30,140.71 L537.27,138.03 L537.13,135.35 L536.94,132.68 L536.89,129.97 Z" fill="none" stroke="#0c0c0c" stroke-width="3.3" stroke-linejoin="round" />
<path d="M581.18,128.94 L583.80,128.91 L586.40,128.83 L589.00,128.76 L591.60,128.81 L594.20,128.94 L596.80,129.00 L599.40,128.93 L602.00,128.80 L604.60,128.74 L607.20,128.77 L609.80,128.78 L612.40,128.75 L615.07,128.75 L616.20,129.94 L616.01,132.68 L615.80,135.35 L615.71,138.03 L615.74,140.71 L615.77,143.38 L615.74,146.06 L615.74,148.74 L615.85,151.42 L615.98,154.09 L616.00,156.77 L615.89,159.45 L615.79,162.12 L615.82,164.75 L614.96,165.67 L612.40,165.74 L609.80,165.76 L607.20,165.79 L604.60,165.93 L602.00,166.12 L599.40,166.23 L596.80,166.19 L594.20,166.06 L591.60,165.98 L589.00,165.96 L586.40,165.91 L583.80,165.79 L581.23,165.69 L580.31,164.77 L580.23,162.12 L580.12,159.45 L580.13,156.77 L580.25,154.09 L580.35,151.42 L580.37,148.74 L580.40,146.06 L580.51,143.38 L580.62,140.71 L580.59,138.03 L580.41,135.35 L580.22,132.68 L580.15,129.99 Z" fill="none" stroke="#0c0c0c" stroke-width="3.3" stroke-linejoin="round" />
<path d="M629.41,128.67 L632.12,128.69 L634.75,128.69 L637.37,128.67 L639.99,128.75 L642.62,128.93 L645.24,129.10 L647.86,129.13 L650.48,129.05 L653.11,129.00 L655.73,129.04 L658.35,129.09 L660.98,129.07 L663.59,129.03 L664.56,130.01 L664.43,132.68 L664.25,135.35 L664.19,138.03 L664.28,140.71 L664.40,143.38 L664.46,146.06 L664.51,148.74 L664.64,151.42 L664.82,154.09 L664.91,156.77 L664.83,159.45 L664.71,162.12 L664.67,164.82 L663.63,165.90 L660.98,165.95 L658.35,165.95 L655.73,165.90 L653.11,165.93 L650.48,166.04 L647.86,166.12 L645.24,166.05 L642.62,165.87 L639.99,165.71 L637.37,165.65 L634.75,165.61 L632.12,165.52 L629.60,165.43 L628.88,164.70 L628.79,162.12 L628.61,159.45 L628.52,156.77 L628.56,154.09 L628.61,151.42 L628.59,148.74 L628.53,146.06 L628.56,143.38 L628.63,140.71 L628.61,138.03 L628.45,135.35 L628.25,132.68 L628.17,129.91 Z" fill="none" stroke="#0c0c0c" stroke-width="3.3" stroke-linejoin="round" />
<path d="M674.00,128.99 L676.60,128.89 L679.20,128.84 L681.80,128.89 L684.40,128.96 L687.00,128.94 L689.60,128.90 L692.20,128.97 L694.80,129.15 L697.40,129.31 L700.00,129.35 L702.60,129.30 L705.20,129.30 L707.80,129.33 L710.40,129.27 L713.00,129.08 L715.60,128.88 L718.20,128.78 L720.80,128.81 L723.40,128.81 L726.00,128.76 L728.60,128.73 L731.25,128.82 L732.30,129.97 L732.20,132.68 L732.24,135.35 L732.33,138.03 L732.35,140.71 L732.28,143.38 L732.24,146.06 L732.28,148.74 L732.29,151.42 L732.15,154.09 L731.95,156.77 L731.85,159.45 L731.88,162.12 L731.92,164.72 L731.12,165.51 L728.60,165.47 L726.00,165.55 L723.40,165.75 L720.80,165.95 L718.20,166.02 L715.60,165.99 L713.00,165.99 L710.40,166.05 L707.80,166.07 L705.20,165.97 L702.60,165.83 L700.00,165.81 L697.40,165.89 L694.80,165.96 L692.20,165.92 L689.60,165.85 L687.00,165.85 L684.40,165.90 L681.80,165.85 L679.20,165.68 L676.60,165.50 L674.09,165.46 L673.32,164.71 L673.29,162.12 L673.31,159.45 L673.32,156.77 L673.19,154.09 L672.96,151.42 L672.81,148.74 L672.79,146.06 L672.82,143.38 L672.78,140.71 L672.73,138.03 L672.78,135.35 L672.92,132.68 L673.00,130.00 Z" fill="none" stroke="#0c0c0c" stroke-width="3.3" stroke-linejoin="round" />
<path d="M396.5,142.5 L389.7,148.5 L396.8,154.5" fill="none" stroke="#0c0c0c" stroke-width="3.2" stroke-linecap="round" stroke-linejoin="round" />
<text x="399.50" y="155.00" font-size="19" font-weight="normal" text-anchor="start" textLength="38.0" lengthAdjust="spacingAndGlyphs" stroke="#0c0c0c" stroke-width="0.7"  style="">PREV</text>
<text x="468.00" y="153.00" font-size="13" font-weight="normal" text-anchor="middle"  stroke="#0c0c0c" stroke-width="0.45"  style="">1</text>
<text x="512.50" y="153.00" font-size="13" font-weight="normal" text-anchor="middle"  stroke="#0c0c0c" stroke-width="0.45"  style="">2</text>
<text x="555.00" y="153.00" font-size="13" font-weight="normal" text-anchor="middle"  stroke="#0c0c0c" stroke-width="0.45"  style="">3</text>
<text x="598.60" y="153.00" font-size="13" font-weight="normal" text-anchor="middle"  stroke="#0c0c0c" stroke-width="0.45"  style="">4</text>
<circle cx="641.50" cy="153.30" r="1.20" fill="#0c0c0c"/>
<circle cx="646.30" cy="153.30" r="1.20" fill="#0c0c0c"/>
<circle cx="651.00" cy="153.30" r="1.20" fill="#0c0c0c"/>
<text x="677.50" y="155.00" font-size="19" font-weight="normal" text-anchor="start" textLength="37.0" lengthAdjust="spacingAndGlyphs" stroke="#0c0c0c" stroke-width="0.7"  style="">NEXT</text>
<path d="M718.5,141 L727.5,148.5 L718.8,156" fill="none" stroke="#0c0c0c" stroke-width="3.2" stroke-linecap="round" stroke-linejoin="round" />
<path d="M384.99,215.84 L387.51,215.81 L390.02,215.84 L392.52,215.93 L395.03,215.98 L397.54,215.90 L400.05,215.77 L402.56,215.72 L405.07,215.79 L407.57,215.90 L410.08,215.96 L412.59,215.98 L415.10,216.06 L417.61,216.22 L420.12,216.39 L422.62,216.43 L425.13,216.33 L427.64,216.22 L430.15,216.17 L432.66,216.16 L435.17,216.11 L437.68,215.99 L440.18,215.90 L442.69,215.92 L445.20,216.03 L447.71,216.10 L450.22,216.05 L452.73,215.94 L455.23,215.88 L457.74,215.87 L460.25,215.84 L462.76,215.73 L465.27,215.60 L467.77,215.57 L470.28,215.68 L472.79,215.85 L475.30,215.95 L477.81,215.99 L480.32,216.04 L482.82,216.16 L485.33,216.27 L487.84,216.27 L490.35,216.16 L492.86,216.05 L495.37,216.05 L497.88,216.12 L500.38,216.17 L502.89,216.15 L505.40,216.13 L507.91,216.17 L510.42,216.27 L512.92,216.30 L515.43,216.19 L517.94,216.00 L520.45,215.86 L522.96,215.82 L525.47,215.79 L527.97,215.71 L530.48,215.62 L532.99,215.62 L535.50,215.75 L538.01,215.91 L540.52,215.98 L543.02,215.95 L545.53,215.92 L548.04,215.96 L550.55,216.02 L553.06,216.01 L555.57,215.93 L558.07,215.89 L560.58,215.96 L563.09,216.13 L565.60,216.27 L568.11,216.30 L570.62,216.29 L573.12,216.31 L575.63,216.36 L578.14,216.35 L580.65,216.20 L583.16,216.00 L585.67,215.87 L588.17,215.86 L590.68,215.89 L593.19,215.87 L595.70,215.82 L598.21,215.81 L600.72,215.89 L603.22,215.99 L605.73,215.97 L608.24,215.85 L610.75,215.73 L613.26,215.71 L615.77,215.77 L618.27,215.80 L620.78,215.79 L623.29,215.81 L625.80,215.94 L627.34,216.25 L628.75,216.87 L629.98,217.76 L631.01,218.84 L631.82,220.10 L632.35,221.51 L632.55,223.01 L632.55,225.50 L632.53,228.00 L632.57,230.50 L632.70,233.00 L632.82,235.50 L632.83,238.00 L632.73,240.50 L632.65,243.00 L632.67,245.50 L632.75,248.00 L632.61,249.55 L632.10,251.04 L631.26,252.36 L630.16,253.46 L628.84,254.32 L627.38,254.92 L625.81,255.20 L623.29,255.37 L620.78,255.43 L618.27,255.36 L615.77,255.26 L613.26,255.21 L610.75,255.19 L608.24,255.10 L605.73,254.94 L603.22,254.81 L600.72,254.80 L598.21,254.90 L595.70,254.97 L593.19,254.95 L590.68,254.88 L588.17,254.87 L585.67,254.91 L583.16,254.91 L580.65,254.81 L578.14,254.67 L575.63,254.62 L573.12,254.71 L570.62,254.86 L568.11,254.95 L565.60,254.99 L563.09,255.06 L560.58,255.21 L558.07,255.35 L555.57,255.37 L553.06,255.27 L550.55,255.15 L548.04,255.11 L545.53,255.14 L543.02,255.14 L540.52,255.07 L538.01,255.01 L535.50,255.05 L532.99,255.16 L530.48,255.21 L527.97,255.13 L525.47,254.98 L522.96,254.87 L520.45,254.84 L517.94,254.80 L515.43,254.70 L512.92,254.58 L510.42,254.57 L507.91,254.70 L505.40,254.87 L502.89,254.97 L500.38,254.98 L497.88,255.00 L495.37,255.07 L492.86,255.15 L490.35,255.15 L487.84,255.05 L485.33,254.96 L482.82,255.00 L480.32,255.12 L477.81,255.22 L475.30,255.24 L472.79,255.22 L470.28,255.26 L467.77,255.34 L465.27,255.34 L462.76,255.21 L460.25,255.00 L457.74,254.86 L455.23,254.82 L452.73,254.82 L450.22,254.77 L447.71,254.70 L445.20,254.70 L442.69,254.82 L440.18,254.95 L437.67,254.98 L435.17,254.91 L432.66,254.83 L430.15,254.83 L427.64,254.88 L425.13,254.89 L422.62,254.85 L420.12,254.83 L417.61,254.95 L415.10,255.15 L412.59,255.30 L410.08,255.34 L407.57,255.31 L405.07,255.30 L402.56,255.33 L400.05,255.31 L397.54,255.18 L395.03,255.00 L392.52,254.90 L390.02,254.93 L387.51,255.00 L385.00,255.01 L383.45,254.80 L381.99,254.25 L380.69,253.41 L379.58,252.32 L378.72,251.02 L378.17,249.56 L378.00,248.00 L378.10,245.50 L378.27,243.00 L378.38,240.50 L378.35,238.00 L378.27,235.50 L378.23,233.00 L378.22,230.50 L378.16,228.00 L377.99,225.50 L377.80,222.99 L377.91,221.38 L378.43,219.84 L379.33,218.48 L380.51,217.37 L381.89,216.55 L383.41,216.03 Z" fill="none" stroke="#0c0c0c" stroke-width="3.7" stroke-linejoin="round" />
<text x="391.20" y="242.00" font-size="17" font-weight="normal" text-anchor="start" textLength="73.8" lengthAdjust="spacingAndGlyphs" stroke="#0c0c0c" stroke-width="0.8"  style="">File Name</text>
<path d="M656.01,214.23 L658.59,214.34 L661.18,214.29 L663.78,214.16 L666.37,214.09 L668.96,214.07 L671.55,214.03 L674.15,213.90 L676.74,213.80 L679.33,213.82 L681.92,213.93 L684.52,214.01 L687.11,213.96 L689.70,213.84 L692.29,213.78 L694.88,213.77 L697.48,213.72 L700.07,213.58 L702.66,213.46 L705.25,213.49 L707.85,213.65 L710.44,213.80 L713.03,213.85 L715.62,213.87 L718.22,213.95 L720.81,214.06 L723.39,214.09 L724.93,214.19 L726.44,214.57 L727.85,215.24 L729.08,216.22 L730.07,217.45 L730.75,218.86 L731.13,220.36 L731.22,221.91 L731.19,224.56 L731.19,227.21 L731.13,229.87 L731.03,232.52 L731.02,235.18 L731.18,237.83 L731.38,240.49 L731.49,243.14 L731.50,245.80 L731.36,247.38 L730.92,248.92 L730.21,250.35 L729.23,251.63 L727.99,252.66 L726.55,253.40 L724.99,253.80 L723.40,253.87 L720.81,253.80 L718.22,253.87 L715.62,254.00 L713.03,254.05 L710.44,254.03 L707.85,254.01 L705.25,254.06 L702.66,254.08 L700.07,253.97 L697.48,253.76 L694.88,253.59 L692.29,253.55 L689.70,253.58 L687.11,253.57 L684.52,253.53 L681.92,253.54 L679.33,253.66 L676.74,253.78 L674.15,253.77 L671.55,253.66 L668.96,253.57 L666.37,253.58 L663.78,253.65 L661.18,253.66 L658.59,253.65 L656.00,253.72 L654.44,253.67 L652.88,253.33 L651.40,252.68 L650.10,251.70 L649.04,250.45 L648.29,248.99 L647.87,247.42 L647.75,245.81 L647.76,243.14 L647.75,240.49 L647.83,237.83 L647.98,235.18 L648.04,232.52 L647.96,229.87 L647.84,227.21 L647.83,224.56 L647.91,221.90 L648.12,220.33 L648.60,218.84 L649.35,217.45 L650.34,216.24 L651.57,215.28 L652.98,214.61 L654.48,214.26 Z" fill="none" stroke="#0c0c0c" stroke-width="3.7" stroke-linejoin="round" />
<text x="662.50" y="242.60" font-size="19.5" font-weight="normal" text-anchor="start" textLength="55.5" lengthAdjust="spacingAndGlyphs" stroke="#0c0c0c" stroke-width="0.7"  style="">Browse</text>
<path d="M394.5,288.2 C480,287 600,287 712.5,288" fill="none" stroke="#0c0c0c" stroke-width="3" stroke-linecap="round" stroke-linejoin="round" />
<line x1="394.07" y1="314.26" x2="401.93" y2="314.00" stroke="#0c0c0c" stroke-width="3.3" stroke-linecap="round" />
<line x1="412.87" y1="315.15" x2="419.53" y2="314.73" stroke="#0c0c0c" stroke-width="3.3" stroke-linecap="round" />
<line x1="434.08" y1="314.76" x2="440.92" y2="315.14" stroke="#0c0c0c" stroke-width="3.3" stroke-linecap="round" />
<line x1="456.49" y1="315.14" x2="464.51" y2="314.92" stroke="#0c0c0c" stroke-width="3.3" stroke-linecap="round" />
<line x1="476.64" y1="314.53" x2="483.36" y2="314.91" stroke="#0c0c0c" stroke-width="3.3" stroke-linecap="round" />
<line x1="495.27" y1="314.28" x2="503.73" y2="313.96" stroke="#0c0c0c" stroke-width="3.3" stroke-linecap="round" />
<line x1="518.13" y1="314.38" x2="524.27" y2="314.36" stroke="#0c0c0c" stroke-width="3.3" stroke-linecap="round" />
<line x1="541.86" y1="314.42" x2="549.14" y2="313.92" stroke="#0c0c0c" stroke-width="3.3" stroke-linecap="round" />
<line x1="566.63" y1="314.54" x2="573.37" y2="314.61" stroke="#0c0c0c" stroke-width="3.3" stroke-linecap="round" />
<line x1="589.58" y1="314.93" x2="598.02" y2="314.94" stroke="#0c0c0c" stroke-width="3.3" stroke-linecap="round" />
<line x1="615.11" y1="314.91" x2="622.49" y2="314.47" stroke="#0c0c0c" stroke-width="3.3" stroke-linecap="round" />
<line x1="636.36" y1="315.04" x2="644.64" y2="315.41" stroke="#0c0c0c" stroke-width="3.3" stroke-linecap="round" />
<line x1="657.22" y1="314.57" x2="665.18" y2="314.47" stroke="#0c0c0c" stroke-width="3.3" stroke-linecap="round" />
<line x1="684.63" y1="314.86" x2="690.37" y2="314.42" stroke="#0c0c0c" stroke-width="3.3" stroke-linecap="round" />
<line x1="706.69" y1="314.35" x2="712.31" y2="314.01" stroke="#0c0c0c" stroke-width="3.3" stroke-linecap="round" />
<ellipse cx="402.0" cy="343.3" rx="1.73" ry="2.10" fill="#0c0c0c"/>
<ellipse cx="412.5" cy="343.0" rx="1.76" ry="2.43" fill="#0c0c0c"/>
<ellipse cx="425.0" cy="342.8" rx="2.22" ry="2.65" fill="#0c0c0c"/>
<ellipse cx="439.2" cy="343.0" rx="1.85" ry="2.41" fill="#0c0c0c"/>
<ellipse cx="454.2" cy="343.3" rx="1.77" ry="2.86" fill="#0c0c0c"/>
<ellipse cx="467.5" cy="344.2" rx="1.98" ry="2.54" fill="#0c0c0c"/>
<ellipse cx="483.8" cy="342.9" rx="1.76" ry="2.41" fill="#0c0c0c"/>
<ellipse cx="496.8" cy="343.2" rx="2.20" ry="2.25" fill="#0c0c0c"/>
<ellipse cx="514.2" cy="342.8" rx="2.27" ry="2.58" fill="#0c0c0c"/>
<ellipse cx="531.2" cy="343.0" rx="2.03" ry="2.12" fill="#0c0c0c"/>
<ellipse cx="548.8" cy="343.5" rx="2.29" ry="2.88" fill="#0c0c0c"/>
<ellipse cx="564.5" cy="343.8" rx="1.86" ry="2.43" fill="#0c0c0c"/>
<ellipse cx="582.5" cy="343.0" rx="2.16" ry="2.58" fill="#0c0c0c"/>
<ellipse cx="599.2" cy="343.9" rx="1.90" ry="2.30" fill="#0c0c0c"/>
<ellipse cx="616.2" cy="343.9" rx="2.29" ry="2.87" fill="#0c0c0c"/>
<ellipse cx="633.8" cy="343.9" rx="2.19" ry="2.77" fill="#0c0c0c"/>
<ellipse cx="649.2" cy="343.1" rx="2.01" ry="2.42" fill="#0c0c0c"/>
<ellipse cx="667.0" cy="342.8" rx="1.72" ry="2.35" fill="#0c0c0c"/>
<ellipse cx="685.8" cy="343.2" rx="2.12" ry="2.96" fill="#0c0c0c"/>
<ellipse cx="703.0" cy="343.4" rx="2.26" ry="2.99" fill="#0c0c0c"/>
<text x="38.80" y="392.00" font-size="16" font-weight="normal" text-anchor="start" textLength="130.5" lengthAdjust="spacingAndGlyphs" stroke="#0c0c0c" stroke-width="0.45"  style="">NAME OF THE SONG</text>
<text x="261.20" y="393.00" font-size="14.5" font-weight="normal" text-anchor="start" textLength="95.0" lengthAdjust="spacingAndGlyphs" stroke="#0c0c0c" stroke-width="0.6" font-style="italic" style="">03:34 / 04:58</text>
<path d="M36.5,418.3 C120,417.5 260,418.5 359.5,418" fill="none" stroke="#0c0c0c" stroke-width="3.4" stroke-linecap="round" stroke-linejoin="round" />
<path d="M230.04,405.11 L233.15,405.05 L236.32,404.95 L237.83,406.49 L237.73,409.04 L237.67,411.57 L237.68,414.11 L237.67,416.65 L237.57,419.19 L237.44,421.73 L237.43,424.26 L237.58,426.72 L236.27,428.20 L233.15,428.29 L229.98,428.36 L228.32,426.87 L228.14,424.26 L228.09,421.73 L228.19,419.19 L228.31,416.65 L228.35,414.11 L228.35,411.57 L228.42,409.04 L228.55,406.52 Z" fill="#0c0c0c" stroke="#0c0c0c" stroke-width="2.2" stroke-linejoin="round" />
<line x1="235.2" y1="408.5" x2="235.6" y2="415" stroke="#fff" stroke-width="1.1" stroke-linecap="round"/>
<path d="M37.5,445 L46.5,439.5 L46.5,450.5 Z M46.8,445 L55.8,439.3 L55.8,450.8 Z" fill="#0c0c0c" stroke="#0c0c0c" stroke-width="1.2" stroke-linecap="round" stroke-linejoin="round" />
<path d="M74.5,436.5 L84.5,444.8 L74.8,452.8 Z" fill="#0c0c0c" stroke="#0c0c0c" stroke-width="1.6" stroke-linecap="round" stroke-linejoin="round" />
<path d="M103.8,439 L112.5,445 L103.8,451.3 Z M113,439 L122,445 L113,451.3 Z" fill="#0c0c0c" stroke="#0c0c0c" stroke-width="1.2" stroke-linecap="round" stroke-linejoin="round" />
<path d="M140.14,438.92 L142.93,438.89 L145.87,438.66 L148.82,438.45 L150.42,439.96 L150.43,442.93 L150.42,445.87 L150.44,448.85 L148.85,450.45 L145.87,450.44 L142.93,450.40 L139.96,450.41 L138.36,448.85 L138.37,445.87 L138.56,442.93 L138.80,440.10 Z" fill="#0c0c0c" stroke="#0c0c0c" stroke-width="2" stroke-linejoin="round" />
<line x1="166.20" y1="438.50" x2="166.40" y2="450.50" stroke="#0c0c0c" stroke-width="3.4" stroke-linecap="round" />
<line x1="172.60" y1="438.50" x2="172.80" y2="450.50" stroke="#0c0c0c" stroke-width="3.4" stroke-linecap="round" />
<text x="34.50" y="505.30" font-size="16.5" font-weight="normal" text-anchor="start" textLength="24.5" lengthAdjust="spacingAndGlyphs" stroke="#0c0c0c" stroke-width="0.65" font-style="italic" style="">0%</text>
<path d="M68,501 C130,500.3 200,501.3 266,500.6" fill="none" stroke="#0c0c0c" stroke-width="3.3" stroke-linecap="round" stroke-linejoin="round" />
<path d="M135.03,499.20 L134.46,501.22 L133.05,502.74 L131.12,503.50 L129.05,503.29 L127.34,502.08 L126.45,500.22 L126.50,498.19 L127.46,496.42 L129.12,495.30 L131.11,495.04 L133.04,495.67 L134.50,497.15 Z" fill="#fff" stroke="#0c0c0c" stroke-width="3.9" stroke-linejoin="round"/>
<text x="280.00" y="505.30" font-size="16.5" font-weight="normal" text-anchor="start" textLength="40.0" lengthAdjust="spacingAndGlyphs" stroke="#0c0c0c" stroke-width="0.65" font-style="italic" style="">100%</text>
<path d="M26,553.6 C150,554 350,552.5 482,552.2" fill="none" stroke="#0c0c0c" stroke-width="3.3" stroke-linecap="round" stroke-linejoin="round" />
<path d="M481,542 L507,551 L481.5,562 Z" fill="#0c0c0c" stroke="#0c0c0c" stroke-width="2" stroke-linecap="round" stroke-linejoin="round" />
<circle cx="486.00" cy="548.00" r="0.70" fill="#fff"/>
<circle cx="489.50" cy="551.50" r="0.70" fill="#fff"/>
<circle cx="486.50" cy="555.50" r="0.70" fill="#fff"/>
<path d="M447.16,419.00 L447.09,421.02 L446.80,423.03 L446.37,425.00 L445.82,426.95 L445.11,428.85 L444.21,430.66 L443.10,432.36 L441.84,433.94 L440.50,435.43 L439.09,436.87 L437.61,438.24 L435.99,439.48 L434.25,440.51 L432.39,441.35 L430.48,442.02 L428.53,442.57 L426.54,442.99 L424.52,443.20 L422.49,443.15 L420.49,442.86 L418.53,442.41 L416.62,441.86 L414.73,441.24 L412.89,440.49 L411.12,439.57 L409.46,438.48 L407.90,437.25 L406.41,435.94 L404.97,434.56 L403.63,433.07 L402.47,431.43 L401.52,429.66 L400.78,427.80 L400.17,425.89 L399.67,423.96 L399.29,421.99 L399.10,420.00 L399.12,418.00 L399.33,416.01 L399.66,414.04 L400.08,412.08 L400.59,410.13 L401.28,408.22 L402.19,406.40 L403.32,404.70 L404.60,403.12 L406.00,401.64 L407.49,400.25 L409.10,399.00 L410.85,397.96 L412.71,397.13 L414.63,396.49 L416.56,395.95 L418.51,395.49 L420.49,395.14 L422.50,394.99 L424.51,395.05 L426.50,395.31 L428.46,395.71 L430.41,396.21 L432.31,396.85 L434.14,397.69 L435.85,398.76 L437.41,400.01 L438.87,401.38 L440.25,402.80 L441.56,404.29 L442.75,405.88 L443.78,407.58 L444.63,409.37 L445.36,411.21 L446.01,413.09 L446.57,415.01 L446.98,416.99 Z" fill="none" stroke="#0c0c0c" stroke-width="2.6" stroke-linejoin="round"/>
<line x1="400.80" y1="427.00" x2="410.60" y2="423.50" stroke="#0c0c0c" stroke-width="4" stroke-linecap="round" />
<circle cx="425.00" cy="385.60" r="2.50" fill="#0c0c0c"/>
<circle cx="412.00" cy="390.40" r="1.38" fill="#0c0c0c"/>
<circle cx="437.00" cy="390.40" r="1.62" fill="#0c0c0c"/>
<circle cx="400.40" cy="397.60" r="1.75" fill="#0c0c0c"/>
<circle cx="446.60" cy="398.50" r="1.88" fill="#0c0c0c"/>
<circle cx="394.00" cy="407.50" r="1.88" fill="#0c0c0c"/>
<circle cx="451.40" cy="408.00" r="1.88" fill="#0c0c0c"/>
<circle cx="392.00" cy="418.60" r="2.50" fill="#0c0c0c"/>
<circle cx="453.50" cy="418.00" r="2.50" fill="#0c0c0c"/>
<circle cx="395.00" cy="431.50" r="1.12" fill="#0c0c0c"/>
<circle cx="453.50" cy="430.00" r="1.75" fill="#0c0c0c"/>
<circle cx="401.60" cy="440.50" r="1.75" fill="#0c0c0c"/>
<circle cx="448.40" cy="441.00" r="1.88" fill="#0c0c0c"/>
<circle cx="411.50" cy="447.40" r="1.75" fill="#0c0c0c"/>
<circle cx="437.00" cy="447.40" r="1.75" fill="#0c0c0c"/>
<circle cx="425.00" cy="451.00" r="2.50" fill="#0c0c0c"/>
<path d="M494.90,388.80 L497.37,395.00 L504.03,395.43 L498.89,399.70 L500.54,406.17 L494.90,402.60 L489.26,406.17 L490.91,399.70 L485.77,395.43 L492.43,395.00 Z" fill="none" stroke="#0c0c0c" stroke-width="2.1" stroke-linecap="round" stroke-linejoin="round" />
<path d="M494.90,432.40 L497.49,438.64 L504.22,439.17 L499.08,443.56 L500.66,450.13 L494.90,446.60 L489.14,450.13 L490.72,443.56 L485.58,439.17 L492.31,438.64 Z" fill="#0c0c0c" stroke="#0c0c0c" stroke-width="2" stroke-linecap="round" stroke-linejoin="round" />
<path d="M517.40,388.80 L519.87,395.00 L526.53,395.43 L521.39,399.70 L523.04,406.17 L517.40,402.60 L511.76,406.17 L513.41,399.70 L508.27,395.43 L514.93,395.00 Z" fill="none" stroke="#0c0c0c" stroke-width="2.1" stroke-linecap="round" stroke-linejoin="round" />
<path d="M517.40,432.40 L519.99,438.64 L526.72,439.17 L521.58,443.56 L523.16,450.13 L517.40,446.60 L511.64,450.13 L513.22,443.56 L508.08,439.17 L514.81,438.64 Z" fill="#0c0c0c" stroke="#0c0c0c" stroke-width="2" stroke-linecap="round" stroke-linejoin="round" />
<path d="M539.90,388.80 L542.37,395.00 L549.03,395.43 L543.89,399.70 L545.54,406.17 L539.90,402.60 L534.26,406.17 L535.91,399.70 L530.77,395.43 L537.43,395.00 Z" fill="none" stroke="#0c0c0c" stroke-width="2.1" stroke-linecap="round" stroke-linejoin="round" />
<path d="M539.90,432.40 L542.49,438.64 L549.22,439.17 L544.08,443.56 L545.66,450.13 L539.90,446.60 L534.14,450.13 L535.72,443.56 L530.58,439.17 L537.31,438.64 Z" fill="#0c0c0c" stroke="#0c0c0c" stroke-width="2" stroke-linecap="round" stroke-linejoin="round" />
<path d="M563.00,388.80 L565.47,395.00 L572.13,395.43 L566.99,399.70 L568.64,406.17 L563.00,402.60 L557.36,406.17 L559.01,399.70 L553.87,395.43 L560.53,395.00 Z" fill="none" stroke="#0c0c0c" stroke-width="2.1" stroke-linecap="round" stroke-linejoin="round" />
<path d="M563.00,432.40 L565.59,438.64 L572.32,439.17 L567.18,443.56 L568.76,450.13 L563.00,446.60 L557.24,450.13 L558.82,443.56 L553.68,439.17 L560.41,438.64 Z" fill="#0c0c0c" stroke="#0c0c0c" stroke-width="2" stroke-linecap="round" stroke-linejoin="round" />
<path d="M584.90,388.80 L587.37,395.00 L594.03,395.43 L588.89,399.70 L590.54,406.17 L584.90,402.60 L579.26,406.17 L580.91,399.70 L575.77,395.43 L582.43,395.00 Z" fill="none" stroke="#0c0c0c" stroke-width="2.1" stroke-linecap="round" stroke-linejoin="round" />
<path d="M584.90,432.40 L587.49,438.64 L594.22,439.17 L589.08,443.56 L590.66,450.13 L584.90,446.60 L579.14,450.13 L580.72,443.56 L575.58,439.17 L582.31,438.64 Z" fill="#0c0c0c" stroke="#0c0c0c" stroke-width="2" stroke-linecap="round" stroke-linejoin="round" />
<circle cx="637.60" cy="388.40" r="7.00" fill="#0c0c0c"/>
<circle cx="640.20" cy="386.80" r="1.30" fill="#fff"/>
<line x1="637.80" y1="394.00" x2="637.60" y2="407.00" stroke="#0c0c0c" stroke-width="3.4" stroke-linecap="round" />
<line x1="633.00" y1="407.60" x2="642.00" y2="407.40" stroke="#0c0c0c" stroke-width="2.8" stroke-linecap="round" />
<path d="M640.9,457 C636,450 629,445 629,437 C629,430.5 633.8,426.6 640,426.6 C646.2,426.6 651,430.5 651,437 C651,445 645,450 640.9,457 Z" fill="none" stroke="#0c0c0c" stroke-width="2.8" stroke-linecap="round" stroke-linejoin="round" />
<path d="M642.51,436.40 L642.14,437.63 L641.22,438.51 L640.00,438.84 L638.77,438.52 L637.85,437.64 L637.45,436.40 L637.75,435.10 L638.72,434.18 L640.00,433.90 L641.24,434.25 L642.18,435.14 Z" fill="none" stroke="#0c0c0c" stroke-width="2.2" stroke-linejoin="round"/>
<line x1="630.50" y1="441.00" x2="633.50" y2="438.50" stroke="#0c0c0c" stroke-width="2" stroke-linecap="round" />
<line x1="632.50" y1="445.00" x2="635.50" y2="442.50" stroke="#0c0c0c" stroke-width="2" stroke-linecap="round" />
<line x1="635.00" y1="448.50" x2="638.00" y2="446.00" stroke="#0c0c0c" stroke-width="2" stroke-linecap="round" />
<line x1="637.50" y1="452.00" x2="640.50" y2="449.50" stroke="#0c0c0c" stroke-width="2" stroke-linecap="round" />
<path d="M671.91,382.25 L674.72,382.20 L677.43,382.29 L680.15,382.49 L682.87,382.65 L685.58,382.70 L688.27,382.70 L689.18,383.64 L689.09,386.12 L689.01,388.63 L689.03,391.15 L689.15,393.67 L689.25,396.18 L689.27,398.69 L688.28,399.63 L685.58,399.55 L682.87,399.55 L680.15,399.61 L677.43,399.63 L674.72,399.57 L672.05,399.52 L671.16,398.66 L671.04,396.18 L670.87,393.67 L670.76,391.15 L670.73,388.63 L670.73,386.12 L670.69,383.51 Z" fill="none" stroke="#0c0c0c" stroke-width="3.4" stroke-linejoin="round" />
<path d="M675.3,388.8 L679.6,393.8 L686.4,386" fill="none" stroke="#0c0c0c" stroke-width="3.4" stroke-linecap="round" stroke-linejoin="round" />
<text x="699.80" y="397.00" font-size="18" font-weight="normal" text-anchor="start" textLength="67.0" lengthAdjust="spacingAndGlyphs" stroke="#0c0c0c" stroke-width="0.55"  style="">Checked</text>
<path d="M672.03,433.13 L674.72,433.10 L677.43,433.11 L680.15,433.22 L682.87,433.35 L685.58,433.36 L688.24,433.22 L689.15,434.04 L689.25,436.86 L689.29,439.72 L689.40,442.58 L689.58,445.44 L689.70,448.40 L688.41,449.70 L685.58,449.62 L682.87,449.50 L680.15,449.46 L677.43,449.46 L674.72,449.38 L672.02,449.24 L671.11,448.27 L671.12,445.44 L671.01,442.58 L670.96,439.72 L671.03,436.86 L671.12,434.03 Z" fill="none" stroke="#0c0c0c" stroke-width="3.4" stroke-linejoin="round" />
<text x="700.30" y="446.20" font-size="18" font-weight="normal" text-anchor="start" textLength="86.5" lengthAdjust="spacingAndGlyphs" stroke="#0c0c0c" stroke-width="0.55"  style="">Unchecked</text>
<path d="M400.20,494.40 L400.10,496.42 L399.81,498.42 L399.31,500.37 L398.61,502.26 L397.78,504.08 L396.86,505.85 L395.85,507.57 L394.72,509.23 L393.41,510.76 L391.93,512.12 L390.30,513.29 L388.59,514.32 L386.81,515.24 L384.98,516.02 L383.09,516.64 L381.14,517.05 L379.17,517.25 L377.19,517.28 L375.22,517.22 L373.26,517.09 L371.29,516.84 L369.33,516.42 L367.44,515.78 L365.62,514.93 L363.89,513.92 L362.23,512.78 L360.65,511.53 L359.18,510.13 L357.89,508.56 L356.80,506.86 L355.90,505.06 L355.12,503.20 L354.43,501.32 L353.84,499.40 L353.41,497.42 L353.19,495.41 L353.19,493.39 L353.39,491.37 L353.73,489.38 L354.21,487.41 L354.86,485.49 L355.73,483.66 L356.82,481.95 L358.09,480.39 L359.48,478.94 L360.94,477.59 L362.45,476.31 L364.05,475.13 L365.75,474.10 L367.54,473.26 L369.40,472.58 L371.30,472.02 L373.23,471.56 L375.20,471.23 L377.20,471.11 L379.20,471.23 L381.17,471.60 L383.09,472.15 L384.96,472.83 L386.80,473.60 L388.58,474.49 L390.27,475.55 L391.85,476.77 L393.31,478.14 L394.67,479.61 L395.96,481.15 L397.16,482.78 L398.21,484.53 L399.03,486.39 L399.61,488.35 L399.97,490.35 L400.15,492.38 Z" fill="none" stroke="#0c0c0c" stroke-width="3.2" stroke-linejoin="round"/>
<path d="M371.0,495.8 L386.5,496 M378.3,488.8 L370.2,495.8 L377.5,502.6" fill="none" stroke="#0c0c0c" stroke-width="3.1" stroke-linecap="round" stroke-linejoin="round" />
<line x1="372.74" y1="516.85" x2="376.94" y2="513.65" stroke="#0c0c0c" stroke-width="2.1" stroke-linecap="round" />
<line x1="369.28" y1="515.96" x2="373.48" y2="512.76" stroke="#0c0c0c" stroke-width="2.1" stroke-linecap="round" />
<line x1="366.00" y1="514.53" x2="370.20" y2="511.33" stroke="#0c0c0c" stroke-width="2.1" stroke-linecap="round" />
<line x1="362.98" y1="512.61" x2="367.18" y2="509.41" stroke="#0c0c0c" stroke-width="2.1" stroke-linecap="round" />
<line x1="360.30" y1="510.24" x2="364.50" y2="507.04" stroke="#0c0c0c" stroke-width="2.1" stroke-linecap="round" />
<line x1="358.02" y1="507.48" x2="362.22" y2="504.28" stroke="#0c0c0c" stroke-width="2.1" stroke-linecap="round" />
<line x1="356.21" y1="504.39" x2="360.41" y2="501.19" stroke="#0c0c0c" stroke-width="2.1" stroke-linecap="round" />
<line x1="354.90" y1="501.07" x2="359.10" y2="497.87" stroke="#0c0c0c" stroke-width="2.1" stroke-linecap="round" />
<line x1="354.12" y1="497.57" x2="358.32" y2="494.37" stroke="#0c0c0c" stroke-width="2.1" stroke-linecap="round" />
<line x1="353.90" y1="494.00" x2="358.10" y2="490.80" stroke="#0c0c0c" stroke-width="2.1" stroke-linecap="round" />
<line x1="354.25" y1="490.44" x2="358.45" y2="487.24" stroke="#0c0c0c" stroke-width="2.1" stroke-linecap="round" />
<line x1="355.14" y1="486.98" x2="359.34" y2="483.78" stroke="#0c0c0c" stroke-width="2.1" stroke-linecap="round" />
<path d="M462.99,494.40 L462.85,496.40 L462.51,498.37 L462.02,500.30 L461.45,502.20 L460.79,504.08 L459.99,505.92 L459.01,507.68 L457.83,509.32 L456.50,510.84 L455.04,512.25 L453.49,513.56 L451.84,514.74 L450.06,515.74 L448.17,516.51 L446.20,517.03 L444.20,517.36 L442.20,517.57 L440.20,517.68 L438.20,517.65 L436.20,517.45 L434.24,517.04 L432.33,516.43 L430.48,515.69 L428.67,514.84 L426.91,513.88 L425.25,512.75 L423.74,511.42 L422.41,509.92 L421.25,508.30 L420.21,506.60 L419.26,504.87 L418.42,503.08 L417.72,501.23 L417.21,499.31 L416.89,497.36 L416.71,495.39 L416.63,493.41 L416.65,491.41 L416.84,489.40 L417.25,487.43 L417.92,485.51 L418.80,483.69 L419.84,481.96 L420.99,480.31 L422.25,478.73 L423.65,477.27 L425.19,475.97 L426.86,474.84 L428.61,473.86 L430.42,472.98 L432.27,472.18 L434.18,471.52 L436.15,471.04 L438.18,470.82 L440.21,470.84 L442.22,471.07 L444.20,471.43 L446.15,471.94 L448.05,472.61 L449.86,473.47 L451.55,474.53 L453.14,475.74 L454.64,477.02 L456.08,478.37 L457.47,479.78 L458.74,481.30 L459.85,482.96 L460.76,484.73 L461.50,486.58 L462.09,488.49 L462.57,490.42 L462.89,492.40 Z" fill="none" stroke="#0c0c0c" stroke-width="3.2" stroke-linejoin="round"/>
<path d="M434.09999999999997,495.8 L449.7,495.8 M442.5,488.4 L450.5,495.8 L442.5,502.6" fill="none" stroke="#0c0c0c" stroke-width="3.1" stroke-linecap="round" stroke-linejoin="round" />
<line x1="435.74" y1="516.85" x2="439.94" y2="513.65" stroke="#0c0c0c" stroke-width="2.1" stroke-linecap="round" />
<line x1="432.28" y1="515.96" x2="436.48" y2="512.76" stroke="#0c0c0c" stroke-width="2.1" stroke-linecap="round" />
<line x1="429.00" y1="514.53" x2="433.20" y2="511.33" stroke="#0c0c0c" stroke-width="2.1" stroke-linecap="round" />
<line x1="425.98" y1="512.61" x2="430.18" y2="509.41" stroke="#0c0c0c" stroke-width="2.1" stroke-linecap="round" />
<line x1="423.30" y1="510.24" x2="427.50" y2="507.04" stroke="#0c0c0c" stroke-width="2.1" stroke-linecap="round" />
<line x1="421.02" y1="507.48" x2="425.22" y2="504.28" stroke="#0c0c0c" stroke-width="2.1" stroke-linecap="round" />
<line x1="419.21" y1="504.39" x2="423.41" y2="501.19" stroke="#0c0c0c" stroke-width="2.1" stroke-linecap="round" />
<line x1="417.90" y1="501.07" x2="422.10" y2="497.87" stroke="#0c0c0c" stroke-width="2.1" stroke-linecap="round" />
<line x1="417.12" y1="497.57" x2="421.32" y2="494.37" stroke="#0c0c0c" stroke-width="2.1" stroke-linecap="round" />
<line x1="416.90" y1="494.00" x2="421.10" y2="490.80" stroke="#0c0c0c" stroke-width="2.1" stroke-linecap="round" />
<line x1="417.25" y1="490.44" x2="421.45" y2="487.24" stroke="#0c0c0c" stroke-width="2.1" stroke-linecap="round" />
<line x1="418.14" y1="486.98" x2="422.34" y2="483.78" stroke="#0c0c0c" stroke-width="2.1" stroke-linecap="round" />
<path d="M487.4,497.3 L498.2,484.2 L567.2,485 L567.2,511.4 L498.2,511.8 Z" fill="none" stroke="#0c0c0c" stroke-width="3" stroke-linecap="round" stroke-linejoin="round" />
<line x1="499.60" y1="511.00" x2="501.80" y2="506.20" stroke="#0c0c0c" stroke-width="1.8" stroke-linecap="round" />
<line x1="505.18" y1="511.00" x2="507.38" y2="507.45" stroke="#0c0c0c" stroke-width="1.8" stroke-linecap="round" />
<line x1="511.57" y1="511.00" x2="513.77" y2="506.23" stroke="#0c0c0c" stroke-width="1.8" stroke-linecap="round" />
<line x1="517.19" y1="511.00" x2="519.39" y2="507.57" stroke="#0c0c0c" stroke-width="1.8" stroke-linecap="round" />
<line x1="522.59" y1="511.00" x2="524.79" y2="506.56" stroke="#0c0c0c" stroke-width="1.8" stroke-linecap="round" />
<line x1="528.06" y1="511.00" x2="530.26" y2="506.21" stroke="#0c0c0c" stroke-width="1.8" stroke-linecap="round" />
<line x1="533.02" y1="511.00" x2="535.22" y2="507.55" stroke="#0c0c0c" stroke-width="1.8" stroke-linecap="round" />
<line x1="539.38" y1="511.00" x2="541.58" y2="506.84" stroke="#0c0c0c" stroke-width="1.8" stroke-linecap="round" />
<line x1="545.32" y1="511.00" x2="547.52" y2="506.69" stroke="#0c0c0c" stroke-width="1.8" stroke-linecap="round" />
<line x1="550.85" y1="511.00" x2="553.05" y2="507.32" stroke="#0c0c0c" stroke-width="1.8" stroke-linecap="round" />
<line x1="555.65" y1="511.00" x2="557.85" y2="506.40" stroke="#0c0c0c" stroke-width="1.8" stroke-linecap="round" />
<line x1="561.35" y1="511.00" x2="563.55" y2="506.38" stroke="#0c0c0c" stroke-width="1.8" stroke-linecap="round" />
<line x1="491.18" y1="502.38" x2="494.58" y2="499.77" stroke="#0c0c0c" stroke-width="1.8" stroke-linecap="round" />
<line x1="493.88" y1="506.00" x2="497.28" y2="503.40" stroke="#0c0c0c" stroke-width="1.8" stroke-linecap="round" />
<line x1="496.58" y1="509.62" x2="499.98" y2="507.02" stroke="#0c0c0c" stroke-width="1.8" stroke-linecap="round" />
<text x="518.50" y="502.00" font-size="13" font-weight="normal" text-anchor="start" textLength="23.2" lengthAdjust="spacingAndGlyphs" stroke="#0c0c0c" stroke-width="0.3"  style="">Back</text>
<path d="M600.01,485.86 L602.52,485.71 L605.05,485.60 L607.57,485.57 L610.10,485.55 L612.62,485.48 L615.14,485.40 L617.67,485.42 L620.19,485.59 L622.72,485.78 L625.24,485.88 L627.77,485.89 L630.29,485.91 L632.81,485.98 L635.34,486.04 L637.86,485.99 L640.39,485.87 L642.91,485.80 L645.43,485.87 L647.96,485.99 L650.48,486.05 L653.01,486.02 L655.53,485.98 L658.06,486.01 L660.58,486.03 L663.10,485.94 L665.63,485.74 L668.15,485.55 L670.68,485.48 L673.23,485.51 L674.84,485.97 L676.04,487.16 L676.49,488.77 L676.50,491.35 L676.41,493.90 L676.24,496.45 L676.15,499.00 L676.19,501.55 L676.28,504.10 L676.30,506.65 L676.23,509.20 L675.79,510.70 L674.69,511.78 L673.20,512.19 L670.68,512.21 L668.15,512.14 L665.63,511.96 L663.10,511.81 L660.58,511.79 L658.06,511.88 L655.53,511.97 L653.01,512.00 L650.48,512.05 L647.96,512.18 L645.43,512.36 L642.91,512.46 L640.39,512.41 L637.86,512.31 L635.34,512.28 L632.81,512.32 L630.29,512.36 L627.77,512.32 L625.24,512.27 L622.72,512.32 L620.19,512.45 L617.67,512.53 L615.14,512.47 L612.62,512.32 L610.10,512.21 L607.57,512.16 L605.05,512.10 L602.52,511.96 L600.04,511.82 L598.71,511.43 L597.75,510.50 L597.32,509.17 L597.17,506.65 L597.09,504.10 L597.10,501.55 L597.10,499.00 L597.02,496.45 L596.95,493.90 L596.98,491.35 L597.09,488.81 L597.51,487.37 L598.56,486.31 Z" fill="none" stroke="#0c0c0c" stroke-width="3" stroke-linejoin="round" />
<line x1="600.56" y1="511.60" x2="602.76" y2="508.06" stroke="#0c0c0c" stroke-width="1.8" stroke-linecap="round" />
<line x1="606.42" y1="511.60" x2="608.62" y2="507.33" stroke="#0c0c0c" stroke-width="1.8" stroke-linecap="round" />
<line x1="612.30" y1="511.60" x2="614.50" y2="508.05" stroke="#0c0c0c" stroke-width="1.8" stroke-linecap="round" />
<line x1="617.70" y1="511.60" x2="619.90" y2="508.07" stroke="#0c0c0c" stroke-width="1.8" stroke-linecap="round" />
<line x1="623.40" y1="511.60" x2="625.60" y2="507.45" stroke="#0c0c0c" stroke-width="1.8" stroke-linecap="round" />
<line x1="629.03" y1="511.60" x2="631.23" y2="506.63" stroke="#0c0c0c" stroke-width="1.8" stroke-linecap="round" />
<line x1="634.53" y1="511.60" x2="636.73" y2="506.89" stroke="#0c0c0c" stroke-width="1.8" stroke-linecap="round" />
<line x1="639.60" y1="511.60" x2="641.80" y2="507.88" stroke="#0c0c0c" stroke-width="1.8" stroke-linecap="round" />
<line x1="645.41" y1="511.60" x2="647.61" y2="507.36" stroke="#0c0c0c" stroke-width="1.8" stroke-linecap="round" />
<line x1="651.67" y1="511.60" x2="653.87" y2="507.49" stroke="#0c0c0c" stroke-width="1.8" stroke-linecap="round" />
<line x1="656.79" y1="511.60" x2="658.99" y2="507.43" stroke="#0c0c0c" stroke-width="1.8" stroke-linecap="round" />
<line x1="662.67" y1="511.60" x2="664.87" y2="507.85" stroke="#0c0c0c" stroke-width="1.8" stroke-linecap="round" />
<line x1="667.73" y1="511.60" x2="669.93" y2="507.50" stroke="#0c0c0c" stroke-width="1.8" stroke-linecap="round" />
<line x1="598.00" y1="502.00" x2="600.60" y2="498.60" stroke="#0c0c0c" stroke-width="1.8" stroke-linecap="round" />
<line x1="598.00" y1="506.50" x2="600.60" y2="503.10" stroke="#0c0c0c" stroke-width="1.8" stroke-linecap="round" />
<line x1="598.00" y1="511.00" x2="600.60" y2="507.60" stroke="#0c0c0c" stroke-width="1.8" stroke-linecap="round" />
<text x="622.60" y="502.30" font-size="13" font-weight="normal" text-anchor="start" textLength="25.0" lengthAdjust="spacingAndGlyphs" stroke="#0c0c0c" stroke-width="0.3"  style="">More</text>
<path d="M703.5,486.3 L775.6,486.3 L785,499.2 L775.6,513 L703.5,513 Z" fill="none" stroke="#0c0c0c" stroke-width="3" stroke-linecap="round" stroke-linejoin="round" />
<line x1="706.70" y1="512.40" x2="708.90" y2="507.84" stroke="#0c0c0c" stroke-width="1.8" stroke-linecap="round" />
<line x1="712.93" y1="512.40" x2="715.13" y2="508.21" stroke="#0c0c0c" stroke-width="1.8" stroke-linecap="round" />
<line x1="718.27" y1="512.40" x2="720.47" y2="508.62" stroke="#0c0c0c" stroke-width="1.8" stroke-linecap="round" />
<line x1="724.29" y1="512.40" x2="726.49" y2="508.11" stroke="#0c0c0c" stroke-width="1.8" stroke-linecap="round" />
<line x1="729.54" y1="512.40" x2="731.74" y2="508.21" stroke="#0c0c0c" stroke-width="1.8" stroke-linecap="round" />
<line x1="735.01" y1="512.40" x2="737.21" y2="508.51" stroke="#0c0c0c" stroke-width="1.8" stroke-linecap="round" />
<line x1="740.54" y1="512.40" x2="742.74" y2="508.25" stroke="#0c0c0c" stroke-width="1.8" stroke-linecap="round" />
<line x1="746.17" y1="512.40" x2="748.37" y2="508.91" stroke="#0c0c0c" stroke-width="1.8" stroke-linecap="round" />
<line x1="752.04" y1="512.40" x2="754.24" y2="508.80" stroke="#0c0c0c" stroke-width="1.8" stroke-linecap="round" />
<line x1="757.93" y1="512.40" x2="760.13" y2="507.82" stroke="#0c0c0c" stroke-width="1.8" stroke-linecap="round" />
<line x1="763.07" y1="512.40" x2="765.27" y2="508.91" stroke="#0c0c0c" stroke-width="1.8" stroke-linecap="round" />
<line x1="769.01" y1="512.40" x2="771.21" y2="507.62" stroke="#0c0c0c" stroke-width="1.8" stroke-linecap="round" />
<line x1="704.50" y1="502.00" x2="707.10" y2="498.60" stroke="#0c0c0c" stroke-width="1.8" stroke-linecap="round" />
<line x1="704.50" y1="506.50" x2="707.10" y2="503.10" stroke="#0c0c0c" stroke-width="1.8" stroke-linecap="round" />
<line x1="704.50" y1="511.00" x2="707.10" y2="507.60" stroke="#0c0c0c" stroke-width="1.8" stroke-linecap="round" />
<text x="722.40" y="502.30" font-size="13" font-weight="normal" text-anchor="start" textLength="41.0" lengthAdjust="spacingAndGlyphs" stroke="#0c0c0c" stroke-width="0.3"  style="">Forward</text>
<path d="M589.75,558.50 L589.66,560.49 L589.46,562.48 L589.13,564.46 L588.59,566.40 L587.81,568.25 L586.81,570.00 L585.65,571.63 L584.39,573.18 L583.06,574.66 L581.62,576.04 L580.05,577.28 L578.37,578.36 L576.59,579.28 L574.75,580.08 L572.87,580.80 L570.94,581.40 L568.94,581.81 L566.90,581.96 L564.86,581.86 L562.84,581.53 L560.86,581.04 L558.92,580.42 L557.04,579.65 L555.25,578.68 L553.58,577.53 L552.04,576.21 L550.59,574.81 L549.22,573.34 L547.93,571.79 L546.76,570.13 L545.80,568.34 L545.07,566.44 L544.55,564.49 L544.18,562.51 L543.95,560.51 L543.87,558.50 L544.01,556.50 L544.37,554.53 L544.93,552.61 L545.61,550.75 L546.36,548.92 L547.19,547.12 L548.16,545.37 L549.30,543.73 L550.62,542.22 L552.10,540.86 L553.67,539.61 L555.33,538.46 L557.09,537.45 L558.94,536.64 L560.89,536.06 L562.88,535.71 L564.89,535.53 L566.90,535.45 L568.92,535.46 L570.93,535.62 L572.93,535.98 L574.88,536.57 L576.76,537.36 L578.57,538.29 L580.32,539.33 L581.98,540.53 L583.50,541.90 L584.82,543.46 L585.94,545.17 L586.89,546.96 L587.72,548.79 L588.46,550.65 L589.07,552.56 L589.49,554.52 L589.72,556.50 Z" fill="none" stroke="#0c0c0c" stroke-width="2.7" stroke-linejoin="round"/>
<path d="M566,551.2 L566,563 M557,557 L566,551 L577,555.6" fill="none" stroke="#0c0c0c" stroke-width="2.5" stroke-linecap="round" stroke-linejoin="round" />
<text x="558.00" y="574.00" font-size="10.5" font-weight="normal" text-anchor="start" textLength="17.0" lengthAdjust="spacingAndGlyphs" stroke="#0c0c0c" stroke-width="0.5"  style="">Top</text>
<path d="M649.81,551.13 L652.35,551.20 L654.91,551.29 L657.46,551.29 L660.02,551.13 L662.57,550.93 L665.12,550.81 L667.68,550.80 L670.23,550.79 L672.78,550.73 L675.34,550.68 L677.89,550.72 L680.45,550.84 L683.00,550.90 L684.57,550.97 L686.13,551.21 L687.67,551.63 L689.13,552.28 L690.48,553.15 L691.68,554.22 L692.71,555.45 L693.58,556.79 L694.28,558.23 L694.80,559.74 L695.12,561.30 L695.19,562.89 L695.19,562.81 L695.00,564.38 L694.57,565.90 L693.94,567.33 L693.16,568.67 L692.26,569.91 L691.26,571.06 L690.13,572.10 L688.88,572.99 L687.51,573.69 L686.05,574.18 L684.54,574.47 L682.99,574.57 L680.45,574.64 L677.89,574.76 L675.34,574.81 L672.78,574.73 L670.23,574.60 L667.68,574.58 L665.12,574.67 L662.57,574.77 L660.02,574.82 L657.46,574.85 L654.91,574.97 L652.35,575.15 L649.79,575.25 L648.18,575.12 L646.60,574.73 L645.11,574.13 L643.71,573.35 L642.42,572.42 L641.23,571.37 L640.19,570.17 L639.33,568.85 L638.67,567.41 L638.23,565.90 L637.99,564.36 L637.92,562.79 L637.92,562.91 L638.00,561.35 L638.24,559.80 L638.67,558.29 L639.33,556.86 L640.21,555.54 L641.29,554.39 L642.53,553.42 L643.87,552.63 L645.28,551.99 L646.75,551.52 L648.26,551.22 Z" fill="none" stroke="#0c0c0c" stroke-width="3.5" stroke-linejoin="round" />
<circle cx="680.50" cy="563.00" r="9.70" fill="#0c0c0c"/>
<circle cx="682.8" cy="562.4" r="5.4" fill="#fff"/>
<path d="M676.9,558.8 L681.3,559.8 L678.5,561.4 L681.5,562.8 L678.5,564.4 L681.7,565.8 L677.5,567.6 Z" fill="#0c0c0c"/>
<text x="648.00" y="568.20" font-size="11.5" font-weight="normal" text-anchor="start" textLength="14.0" lengthAdjust="spacingAndGlyphs" stroke="#0c0c0c" stroke-width="0.5"  style="">ON</text>
<path d="M729.49,550.65 L732.09,550.74 L734.68,550.76 L737.28,550.81 L739.87,550.92 L742.46,551.03 L745.05,551.02 L747.65,550.90 L750.24,550.83 L752.83,550.88 L755.42,551.01 L758.02,551.08 L760.61,551.09 L763.19,551.12 L764.73,551.28 L766.22,551.65 L767.64,552.19 L769.00,552.86 L770.29,553.66 L771.51,554.59 L772.62,555.67 L773.58,556.91 L774.34,558.28 L774.88,559.77 L775.19,561.32 L775.30,562.89 L775.30,562.81 L775.23,564.38 L774.97,565.95 L774.50,567.48 L773.81,568.93 L772.90,570.24 L771.80,571.40 L770.55,572.38 L769.21,573.21 L767.79,573.89 L766.32,574.44 L764.78,574.82 L763.20,575.00 L760.61,575.06 L758.02,575.03 L755.42,575.00 L752.83,575.02 L750.24,575.03 L747.65,574.91 L745.05,574.69 L742.46,574.52 L739.87,574.49 L737.28,574.54 L734.68,574.56 L732.09,574.54 L729.51,574.56 L727.96,574.52 L726.42,574.30 L724.91,573.87 L723.49,573.21 L722.19,572.33 L721.05,571.25 L720.08,570.03 L719.27,568.71 L718.59,567.32 L718.06,565.86 L717.70,564.35 L717.55,562.80 L717.54,562.90 L717.62,561.34 L717.91,559.80 L718.41,558.31 L719.08,556.88 L719.89,555.53 L720.86,554.26 L721.99,553.12 L723.29,552.15 L724.74,551.40 L726.29,550.91 L727.89,550.67 Z" fill="none" stroke="#0c0c0c" stroke-width="3.5" stroke-linejoin="round" />
<path d="M741.49,563.10 L741.30,565.20 L740.75,567.24 L739.81,569.15 L738.48,570.80 L736.81,572.10 L734.92,573.01 L732.94,573.55 L730.91,573.77 L728.88,573.67 L726.90,573.20 L725.07,572.34 L723.45,571.12 L722.10,569.63 L721.02,567.94 L720.21,566.09 L719.73,564.12 L719.67,562.08 L720.06,560.07 L720.89,558.20 L722.04,556.53 L723.45,555.08 L725.08,553.89 L726.91,553.00 L728.88,552.51 L730.91,552.45 L732.90,552.78 L734.82,553.43 L736.62,554.36 L738.27,555.60 L739.66,557.15 L740.70,558.98 L741.30,561.00 Z" fill="none" stroke="#0c0c0c" stroke-width="1.3" stroke-linejoin="round"/>
<circle cx="730.40" cy="563.00" r="9.70" fill="#0c0c0c"/>
<circle cx="732.6999999999999" cy="562.4" r="5.4" fill="#fff"/>
<path d="M726.8,558.8 L731.1999999999999,559.8 L728.4,561.4 L731.4,562.8 L728.4,564.4 L731.6,565.8 L727.4,567.6 Z" fill="#0c0c0c"/>
<text x="743.30" y="568.30" font-size="13.5" font-weight="normal" text-anchor="start" textLength="20.7" lengthAdjust="spacingAndGlyphs" stroke="#0c0c0c" stroke-width="0.15"  style="">off</text>
<path d="M43.8,578 L106.8,579.6 L158.5,632 L159.5,698 L145,686.5 L46,586 Z" fill="none" stroke="#0c0c0c" stroke-width="3.4" stroke-linecap="round" stroke-linejoin="round" />
<path d="M22.5,587.6 L40,579.4 L43.8,578 L47,587.8 Z" fill="#0c0c0c" stroke="#0c0c0c" stroke-width="1.5" stroke-linecap="round" stroke-linejoin="round" />
<line x1="33.5" y1="583" x2="33.8" y2="587" stroke="#fff" stroke-width="0.7"/>
<line x1="37" y1="583" x2="37.3" y2="587" stroke="#fff" stroke-width="0.7"/>
<line x1="40.5" y1="583" x2="40.8" y2="587" stroke="#fff" stroke-width="0.7"/>
<path d="M145,686.5 L159.3,698.5 L147.2,711.2 Z" fill="#0c0c0c" stroke="#0c0c0c" stroke-width="1.5" stroke-linecap="round" stroke-linejoin="round" />
<line x1="148.0" y1="692.0" x2="148.6" y2="704.0" stroke="#fff" stroke-width="0.6"/>
<line x1="150.6" y1="694.2" x2="149.79999999999998" y2="702.5" stroke="#fff" stroke-width="0.6"/>
<line x1="153.2" y1="696.4" x2="151.0" y2="701.0" stroke="#fff" stroke-width="0.6"/>
<g transform="translate(115.8,626.5) rotate(45)">
<text x="0.00" y="4.50" font-size="13" font-weight="normal" text-anchor="middle" textLength="30.0" lengthAdjust="spacingAndGlyphs" stroke="#0c0c0c" stroke-width="0.45"  style="">NEW</text>
</g>
<path d="M193,592.2 C220,592.8 250,594 277.6,596" fill="none" stroke="#0c0c0c" stroke-width="3.3" stroke-linecap="round" stroke-linejoin="round" />
<path d="M210.2,593 L209.8,698.5 L236.3,680.5 L257,700 L257.2,595.5" fill="none" stroke="#0c0c0c" stroke-width="3.4" stroke-linecap="round" stroke-linejoin="round" />
<line x1="195.00" y1="593.00" x2="193.50" y2="598.00" stroke="#0c0c0c" stroke-width="2" stroke-linecap="round" />
<line x1="198.50" y1="593.00" x2="197.00" y2="598.00" stroke="#0c0c0c" stroke-width="2" stroke-linecap="round" />
<line x1="202.00" y1="593.00" x2="200.50" y2="598.00" stroke="#0c0c0c" stroke-width="2" stroke-linecap="round" />
<line x1="205.50" y1="593.00" x2="204.00" y2="598.00" stroke="#0c0c0c" stroke-width="2" stroke-linecap="round" />
<line x1="262.00" y1="596.00" x2="260.50" y2="601.00" stroke="#0c0c0c" stroke-width="2" stroke-linecap="round" />
<line x1="266.00" y1="596.00" x2="264.50" y2="601.00" stroke="#0c0c0c" stroke-width="2" stroke-linecap="round" />
<line x1="270.00" y1="596.00" x2="268.50" y2="601.00" stroke="#0c0c0c" stroke-width="2" stroke-linecap="round" />
<line x1="274.00" y1="596.00" x2="272.50" y2="601.00" stroke="#0c0c0c" stroke-width="2" stroke-linecap="round" />
<g transform="translate(236.3,638.5) rotate(-90)">
<text x="0.00" y="8.00" font-size="23" font-weight="normal" text-anchor="middle" textLength="49.0" lengthAdjust="spacingAndGlyphs" stroke="#0c0c0c" stroke-width="1.0"  style="">NEW!</text>
</g>
<path d="M326.27,595.99 L328.93,596.06 L331.57,596.07 L334.20,596.15 L336.83,596.28 L339.47,596.34 L342.10,596.26 L344.73,596.15 L347.37,596.14 L350.00,596.21 L352.63,596.25 L355.27,596.20 L357.90,596.19 L360.53,596.30 L363.17,596.44 L365.70,596.45 L366.50,597.18 L366.61,599.74 L366.67,602.38 L366.69,605.02 L366.78,607.66 L366.97,610.30 L367.12,612.94 L367.12,615.58 L367.03,618.22 L367.00,620.86 L367.03,623.50 L367.02,626.14 L366.91,628.78 L366.80,631.42 L366.83,634.06 L366.95,636.74 L365.85,637.89 L363.17,637.89 L360.53,637.82 L357.90,637.81 L355.27,637.85 L352.63,637.82 L350.00,637.65 L347.37,637.46 L344.73,637.38 L342.10,637.40 L339.47,637.40 L336.83,637.34 L334.20,637.33 L331.57,637.46 L328.93,637.64 L326.30,637.72 L325.30,636.70 L325.35,634.06 L325.32,631.42 L325.25,628.78 L325.25,626.14 L325.34,623.50 L325.41,620.86 L325.33,618.22 L325.18,615.58 L325.09,612.94 L325.09,610.30 L325.06,607.66 L324.95,605.02 L324.86,602.38 L324.93,599.74 L325.11,597.05 Z" fill="none" stroke="#0c0c0c" stroke-width="3.5" stroke-linejoin="round" />
<line x1="329.54" y1="636.50" x2="331.94" y2="631.74" stroke="#0c0c0c" stroke-width="2" stroke-linecap="round" />
<line x1="333.98" y1="636.50" x2="336.38" y2="632.68" stroke="#0c0c0c" stroke-width="2" stroke-linecap="round" />
<line x1="339.40" y1="636.50" x2="341.80" y2="631.36" stroke="#0c0c0c" stroke-width="2" stroke-linecap="round" />
<line x1="343.92" y1="636.50" x2="346.32" y2="631.92" stroke="#0c0c0c" stroke-width="2" stroke-linecap="round" />
<line x1="348.81" y1="636.50" x2="351.21" y2="631.41" stroke="#0c0c0c" stroke-width="2" stroke-linecap="round" />
<line x1="353.78" y1="636.50" x2="356.18" y2="632.26" stroke="#0c0c0c" stroke-width="2" stroke-linecap="round" />
<line x1="358.42" y1="636.50" x2="360.82" y2="631.99" stroke="#0c0c0c" stroke-width="2" stroke-linecap="round" />
<line x1="326.50" y1="613.00" x2="330.90" y2="607.20" stroke="#0c0c0c" stroke-width="2.1" stroke-linecap="round" />
<line x1="326.50" y1="618.60" x2="330.90" y2="612.80" stroke="#0c0c0c" stroke-width="2.1" stroke-linecap="round" />
<line x1="326.50" y1="624.20" x2="330.90" y2="618.40" stroke="#0c0c0c" stroke-width="2.1" stroke-linecap="round" />
<line x1="326.50" y1="629.80" x2="330.90" y2="624.00" stroke="#0c0c0c" stroke-width="2.1" stroke-linecap="round" />
<line x1="326.50" y1="635.40" x2="330.90" y2="629.60" stroke="#0c0c0c" stroke-width="2.1" stroke-linecap="round" />
<path d="M351,606.5 C349,602.5 341.5,602 341.5,608 L341.5,611 L337,611 L337,614.5 L341.5,614.5 L341.5,628.5 L345.8,628.5 L345.8,614.5 L350,614.5 L350,611 L345.8,611 L345.8,608.5 C345.8,606 348.5,606.2 350,608 Z" fill="none" stroke="#0c0c0c" stroke-width="1.9" stroke-linecap="round" stroke-linejoin="round" />
<path d="M385.65,596.36 L388.10,596.31 L390.60,596.25 L393.10,596.27 L395.60,596.30 L398.10,596.23 L400.60,596.06 L403.10,595.89 L405.60,595.84 L408.10,595.88 L410.60,595.90 L413.10,595.85 L415.60,595.85 L418.10,595.96 L420.60,596.14 L423.10,596.25 L425.59,596.25 L426.58,597.21 L426.59,599.84 L426.52,602.48 L426.48,605.12 L426.55,607.76 L426.65,610.40 L426.64,613.04 L426.50,615.68 L426.38,618.32 L426.36,620.96 L426.37,623.60 L426.31,626.24 L426.21,628.88 L426.21,631.52 L426.37,634.16 L426.55,636.79 L425.60,637.80 L423.10,637.83 L420.60,637.86 L418.10,637.96 L415.60,638.07 L413.10,638.08 L410.60,637.98 L408.10,637.87 L405.60,637.87 L403.10,637.93 L400.60,637.96 L398.10,637.91 L395.60,637.88 L393.10,637.96 L390.60,638.08 L388.10,638.14 L385.53,638.05 L384.42,636.85 L384.52,634.16 L384.54,631.52 L384.59,628.88 L384.75,626.24 L384.93,623.60 L384.98,620.96 L384.90,618.32 L384.82,615.68 L384.82,613.04 L384.83,610.40 L384.75,607.76 L384.62,605.12 L384.57,602.48 L384.66,599.84 L384.75,597.24 Z" fill="none" stroke="#0c0c0c" stroke-width="3.5" stroke-linejoin="round" />
<g transform="translate(393,604.2) scale(0.96) translate(-408.3,-45.6)">
<path d="M409.4,46.3 C412,50 417,53.5 421.3,53.8 C421,50 423,46 427.5,45.6 C430,45.4 432,46.5 433.1,47.5 L436.9,46.6 L435,50.6 L437.5,53.1 L435,54.4 C434.5,58 433.5,61 432.5,61.3 C431,65 428,67 426.3,67.5 C423,70 420,70.8 418.8,70.6 C416,71 414,70.6 412.5,70 C411,69.5 409.5,68.5 408.4,67.5 C411,67.6 413,67 414.4,66.3 C416,65.5 417.5,63.5 418.1,61.9 C416,62.5 413.5,62 411.9,61.3 L415,58.8 C413,58.5 411,57.5 409.4,56.3 L411.9,53.8 C410.5,52.8 409.3,51.5 408.8,50 C408.5,48.5 408.8,47.3 409.4,46.3 Z" fill="none" stroke="#0c0c0c" stroke-width="2.2" stroke-linecap="round" stroke-linejoin="round" />
<circle cx="428.80" cy="50.60" r="1.20" fill="#0c0c0c"/>
</g>
<path d="M332.19,661.86 L334.79,661.80 L337.38,661.67 L339.98,661.56 L342.57,661.59 L345.16,661.73 L347.75,661.86 L350.35,661.89 L352.94,661.90 L355.53,662.00 L358.12,662.13 L360.72,662.17 L363.31,662.07 L365.90,661.98 L368.49,662.00 L371.08,662.08 L373.68,662.12 L376.27,662.09 L378.86,662.10 L381.45,662.21 L384.05,662.36 L386.64,662.39 L389.23,662.29 L391.82,662.18 L394.42,662.14 L397.01,662.11 L399.60,661.99 L401.19,662.05 L402.74,662.48 L404.16,663.28 L405.33,664.43 L406.17,665.84 L406.66,667.39 L406.79,668.99 L406.79,671.52 L406.82,674.04 L406.79,676.56 L406.68,679.08 L406.60,681.60 L406.64,684.12 L406.76,686.64 L406.81,689.16 L406.76,691.68 L406.69,694.20 L406.50,695.77 L405.99,697.28 L405.16,698.63 L404.02,699.74 L402.65,700.53 L401.14,700.95 L399.59,701.00 L397.01,700.85 L394.42,700.84 L391.82,700.89 L389.23,700.89 L386.64,700.86 L384.05,700.91 L381.45,701.08 L378.86,701.25 L376.27,701.29 L373.68,701.24 L371.08,701.22 L368.49,701.28 L365.90,701.33 L363.31,701.27 L360.72,701.18 L358.12,701.19 L355.53,701.32 L352.94,701.45 L350.35,701.48 L347.75,701.44 L345.16,701.47 L342.57,701.54 L339.98,701.53 L337.38,701.39 L334.79,701.18 L332.21,701.07 L330.68,700.88 L329.23,700.37 L327.94,699.54 L326.89,698.43 L326.14,697.12 L325.69,695.69 L325.54,694.19 L325.46,691.68 L325.32,689.16 L325.25,686.64 L325.29,684.12 L325.34,681.60 L325.32,679.08 L325.26,676.56 L325.27,674.04 L325.36,671.52 L325.43,669.01 L325.58,667.49 L326.02,666.02 L326.76,664.66 L327.80,663.49 L329.12,662.59 L330.61,662.05 Z" fill="none" stroke="#0c0c0c" stroke-width="3.6" stroke-linejoin="round" />
<text x="334.50" y="687.40" font-size="17" font-weight="normal" text-anchor="start" textLength="41.5" lengthAdjust="spacingAndGlyphs" stroke="#0c0c0c" stroke-width="0.8"  style="">10:24</text>
<line x1="384.00" y1="664.50" x2="380.80" y2="697.00" stroke="#0c0c0c" stroke-width="2.9" stroke-linecap="round" />
<path d="M390.4,674.6 L395.8,670 L401.2,674.6" fill="none" stroke="#0c0c0c" stroke-width="3" stroke-linecap="round" stroke-linejoin="round" />
<line x1="386.50" y1="680.80" x2="404.00" y2="680.80" stroke="#0c0c0c" stroke-width="2.6" stroke-linecap="round" />
<path d="M390.4,687.6 L395.8,692 L401.2,687.6" fill="none" stroke="#0c0c0c" stroke-width="3" stroke-linecap="round" stroke-linejoin="round" />
<path d="M507.5,605.6 C600,605.3 700,606.1 779.5,605.3" fill="none" stroke="#0c0c0c" stroke-width="2.7" stroke-linecap="round" stroke-linejoin="round" />
<path d="M505.5,651.4 C600,651 700,651.6 779,651" fill="none" stroke="#0c0c0c" stroke-width="2.7" stroke-linecap="round" stroke-linejoin="round" />
<path d="M505,608.8 C504.6,620 505.4,635 505.1,647.5" fill="none" stroke="#0c0c0c" stroke-width="2.7" stroke-linecap="round" stroke-linejoin="round" />
<path d="M781.5,606.5 C781.2,620 782,635 781.8,651" fill="none" stroke="#0c0c0c" stroke-width="2.7" stroke-linecap="round" stroke-linejoin="round" />
<path d="M531.30,615.50 L534.45,619.45 L539.40,618.45 L539.27,623.50 L543.71,625.91 L540.36,629.70 L542.21,634.40 L537.21,635.15 L535.61,639.94 L531.30,637.30 L526.99,639.94 L525.39,635.15 L520.39,634.40 L522.24,629.70 L518.89,625.91 L523.33,623.50 L523.20,618.45 L528.15,619.45 Z" fill="none" stroke="#0c0c0c" stroke-width="2" stroke-linecap="round" stroke-linejoin="round" />
<line x1="531.30" y1="622.00" x2="531.30" y2="628.80" stroke="#0c0c0c" stroke-width="3" stroke-linecap="round" />
<circle cx="531.30" cy="633.20" r="1.60" fill="#0c0c0c"/>
<text x="556.20" y="633.20" font-size="16" font-weight="normal" text-anchor="start" textLength="130.0" lengthAdjust="spacingAndGlyphs" stroke="#0c0c0c" stroke-width="0.6"  style="">WARNING MESSAGE</text>
<g transform="translate(450.5,702.3) rotate(0)">
<path d="M8.64,0.00 L8.27,2.04 L7.45,3.91 L6.25,5.54 L4.73,6.85 L2.94,7.75 L0.99,8.18 L-0.99,8.13 L-2.91,7.66 L-4.70,6.81 L-6.29,5.58 L-7.56,3.97 L-8.36,2.06 L-8.61,-0.00 L-8.32,-2.05 L-7.57,-3.97 L-6.42,-5.68 L-4.89,-7.08 L-3.06,-8.06 L-1.04,-8.54 L1.03,-8.50 L3.03,-8.00 L4.89,-7.08 L6.50,-5.76 L7.74,-4.06 L8.48,-2.09 Z" fill="none" stroke="#0c0c0c" stroke-width="2.2" stroke-linejoin="round"/>
<path d="M-4.8,0 L0.2,-4.6 L0.2,-1.6 L4.6,-1.6 L4.6,1.6 L0.2,1.6 L0.2,4.6 Z" fill="#0c0c0c" stroke="#0c0c0c" stroke-width="0.8" stroke-linecap="round" stroke-linejoin="round" />
</g>
<g transform="translate(475.4,702.3) rotate(-90)">
<path d="M8.25,0.00 L7.96,1.96 L7.28,3.82 L6.22,5.51 L4.78,6.93 L3.01,7.92 L1.02,8.41 L-1.02,8.38 L-2.99,7.88 L-4.80,6.95 L-6.36,5.63 L-7.54,3.96 L-8.26,2.04 L-8.48,-0.00 L-8.24,-2.03 L-7.58,-3.98 L-6.50,-5.76 L-4.99,-7.23 L-3.13,-8.26 L-1.06,-8.73 L1.05,-8.64 L3.06,-8.06 L4.86,-7.04 L6.37,-5.65 L7.48,-3.93 L8.11,-2.00 Z" fill="none" stroke="#0c0c0c" stroke-width="2.2" stroke-linejoin="round"/>
<path d="M-4.8,0 L0.2,-4.6 L0.2,-1.6 L4.6,-1.6 L4.6,1.6 L0.2,1.6 L0.2,4.6 Z" fill="#0c0c0c" stroke="#0c0c0c" stroke-width="0.8" stroke-linecap="round" stroke-linejoin="round" />
</g>
<g transform="translate(500.4,702.3) rotate(90)">
<path d="M8.52,0.00 L8.27,2.04 L7.59,3.98 L6.47,5.74 L4.94,7.16 L3.07,8.11 L1.04,8.52 L-1.02,8.43 L-2.99,7.89 L-4.77,6.91 L-6.26,5.55 L-7.35,3.86 L-7.97,1.97 L-8.15,-0.00 L-7.93,-1.96 L-7.33,-3.85 L-6.30,-5.58 L-4.85,-7.03 L-3.05,-8.04 L-1.04,-8.55 L1.04,-8.54 L3.06,-8.07 L4.92,-7.13 L6.50,-5.76 L7.66,-4.02 L8.33,-2.05 Z" fill="none" stroke="#0c0c0c" stroke-width="2.2" stroke-linejoin="round"/>
<path d="M-4.8,0 L0.2,-4.6 L0.2,-1.6 L4.6,-1.6 L4.6,1.6 L0.2,1.6 L0.2,4.6 Z" fill="#0c0c0c" stroke="#0c0c0c" stroke-width="0.8" stroke-linecap="round" stroke-linejoin="round" />
</g>
<g transform="translate(526.4,702.3) rotate(180)">
<path d="M8.53,0.00 L8.23,2.03 L7.44,3.91 L6.28,5.56 L4.80,6.95 L3.03,7.99 L1.04,8.57 L-1.05,8.61 L-3.08,8.12 L-4.94,7.16 L-6.54,5.79 L-7.77,4.08 L-8.53,2.10 L-8.71,-0.00 L-8.32,-2.05 L-7.45,-3.91 L-6.22,-5.51 L-4.70,-6.81 L-2.94,-7.76 L-1.00,-8.26 L1.00,-8.27 L2.95,-7.78 L4.73,-6.85 L6.28,-5.56 L7.50,-3.94 L8.28,-2.04 Z" fill="none" stroke="#0c0c0c" stroke-width="2.2" stroke-linejoin="round"/>
<path d="M-4.8,0 L0.2,-4.6 L0.2,-1.6 L4.6,-1.6 L4.6,1.6 L0.2,1.6 L0.2,4.6 Z" fill="#0c0c0c" stroke="#0c0c0c" stroke-width="0.8" stroke-linecap="round" stroke-linejoin="round" />
</g>
<path d="M594.8,713.6 C590,703 578,689.5 549.8,688" fill="none" stroke="#0c0c0c" stroke-width="3.7" stroke-linecap="round" stroke-linejoin="round" />
<path d="M562.3,681.2 L548.8,688 L561.2,694.4" fill="none" stroke="#0c0c0c" stroke-width="3.7" stroke-linecap="round" stroke-linejoin="round" />
<path d="M600.3,679.3 L644.5,675" fill="none" stroke="#0c0c0c" stroke-width="2.8" stroke-linecap="round" stroke-linejoin="round" />
<path d="M632.8,669.8 L645.5,674.9 L633.5,681.8 Z" fill="none" stroke="#0c0c0c" stroke-width="2.6" stroke-linecap="round" stroke-linejoin="round" />
<path d="M596.2,673.5 L601.7,679 L596.6,685 M601,673 L608.6,678.6 L603.8,684 M607.2,672.4 L615.4,677.6 L609.3,683.4" fill="none" stroke="#0c0c0c" stroke-width="2.7" stroke-linecap="round" stroke-linejoin="round" />
<path d="M664.5,677.6 L688,677.2" fill="none" stroke="#0c0c0c" stroke-width="3" stroke-linecap="round" stroke-linejoin="round" />
<path d="M686,670.6 L696,677.8 L686.6,684.6 Z" fill="#0c0c0c" stroke="#0c0c0c" stroke-width="2" stroke-linecap="round" stroke-linejoin="round" />
<path d="M738.75,677.20 L738.45,679.13 L737.75,680.95 L736.70,682.60 L735.31,684.02 L733.59,685.08 L731.63,685.65 L729.57,685.68 L727.57,685.19 L725.74,684.24 L724.17,682.89 L722.98,681.20 L722.26,679.26 L722.08,677.20 L722.41,675.18 L723.17,673.30 L724.31,671.62 L725.78,670.22 L727.57,669.22 L729.57,668.72 L731.62,668.78 L733.58,669.35 L735.33,670.35 L736.81,671.70 L737.93,673.35 L738.59,675.23 Z" fill="none" stroke="#0c0c0c" stroke-width="2.4" stroke-linejoin="round"/>
<path d="M730.60,671.90 L731.95,675.34 L735.64,675.56 L732.79,677.91 L733.72,681.49 L730.60,679.50 L727.48,681.49 L728.41,677.91 L725.56,675.56 L729.25,675.34 Z" fill="#0c0c0c" stroke="#0c0c0c" stroke-width="0.8" stroke-linecap="round" stroke-linejoin="round" />
<line x1="761.80" y1="675.80" x2="783.30" y2="677.60" stroke="#0c0c0c" stroke-width="3" stroke-linecap="round" />
<line x1="778.00" y1="668.50" x2="766.40" y2="686.00" stroke="#0c0c0c" stroke-width="3" stroke-linecap="round" />
<line x1="767.20" y1="669.20" x2="778.60" y2="684.60" stroke="#0c0c0c" stroke-width="3" stroke-linecap="round" />
<g transform="rotate(-4 646 707)">
<path d="M627.2,702.8 L649.5,702.8 L647.5,697 L652.5,695 L666,706 L653,718.5 L649,716 L651.5,711 L628.8,711.8 Z" fill="none" stroke="#0c0c0c" stroke-width="2.2" stroke-linecap="round" stroke-linejoin="round" />
</g>
<path d="M684,705.6 L688.6,711.6 L697.2,700.8 L699,702.2 L688.5,714.8 L682.6,707.2 Z" fill="none" stroke="#0c0c0c" stroke-width="1.9" stroke-linecap="round" stroke-linejoin="round" />
<line x1="721.00" y1="703.20" x2="730.00" y2="712.40" stroke="#0c0c0c" stroke-width="3.3" stroke-linecap="round" />
<line x1="730.00" y1="702.80" x2="720.40" y2="713.00" stroke="#0c0c0c" stroke-width="3.3" stroke-linecap="round" />
<line x1="754.40" y1="707.50" x2="756.00" y2="700.20" stroke="#0c0c0c" stroke-width="2.8" stroke-linecap="round" />
<line x1="754.40" y1="707.50" x2="761.50" y2="706.10" stroke="#0c0c0c" stroke-width="2.8" stroke-linecap="round" />
<line x1="754.40" y1="707.50" x2="758.80" y2="714.30" stroke="#0c0c0c" stroke-width="2.8" stroke-linecap="round" />
<line x1="754.40" y1="707.50" x2="747.80" y2="713.60" stroke="#0c0c0c" stroke-width="2.8" stroke-linecap="round" />
<line x1="754.40" y1="707.50" x2="747.80" y2="704.70" stroke="#0c0c0c" stroke-width="2.8" stroke-linecap="round" />
</svg>
</body></html>
